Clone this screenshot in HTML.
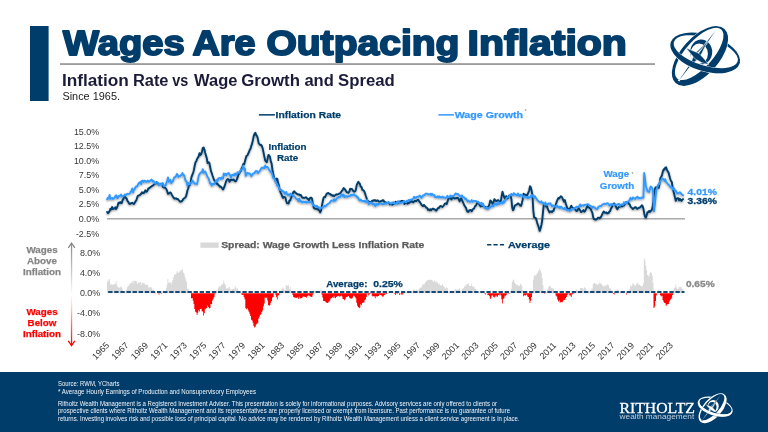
<!DOCTYPE html>
<html><head><meta charset="utf-8"><title>Wages Are Outpacing Inflation</title>
<style>html,body{margin:0;padding:0;background:#fff;overflow:hidden}svg{display:block}</style></head>
<body>
<svg width="768" height="432" viewBox="0 0 768 432">
<defs>
<linearGradient id="ag" x1="0" y1="0" x2="0" y2="1"><stop offset="0" stop-color="#8a8a8a"/><stop offset="0.38" stop-color="#e0e0e0"/><stop offset="0.5" stop-color="#ffffff"/><stop offset="0.62" stop-color="#ffd0d0"/><stop offset="1" stop-color="#ff0000"/></linearGradient>
<filter id="sh" x="-5%" y="-20%" width="110%" height="140%"><feGaussianBlur in="SourceAlpha" stdDeviation="0.9"/><feOffset dx="0.4" dy="0.9"/><feComponentTransfer><feFuncA type="linear" slope="0.42"/></feComponentTransfer><feMerge><feMergeNode/><feMergeNode in="SourceGraphic"/></feMerge></filter>
</defs>
<rect width="768" height="432" fill="#ffffff"/>
<rect x="30" y="26" width="18.6" height="75" fill="#003d6b"/>
<text x="63.1" y="54.6" font-family="'Liberation Sans',sans-serif" font-weight="700" font-size="35" fill="#003d6b" stroke="#003d6b" stroke-width="1.9" stroke-linejoin="round" textLength="121.5" lengthAdjust="spacingAndGlyphs">Wages</text>
<text x="192.4" y="54.6" font-family="'Liberation Sans',sans-serif" font-weight="700" font-size="35" fill="#003d6b" stroke="#003d6b" stroke-width="1.9" stroke-linejoin="round" textLength="63.3" lengthAdjust="spacingAndGlyphs">Are</text>
<text x="266.4" y="54.6" font-family="'Liberation Sans',sans-serif" font-weight="700" font-size="35" fill="#003d6b" stroke="#003d6b" stroke-width="1.9" stroke-linejoin="round" textLength="193.1" lengthAdjust="spacingAndGlyphs">Outpacing</text>
<text x="467.6" y="54.6" font-family="'Liberation Sans',sans-serif" font-weight="700" font-size="35" fill="#003d6b" stroke="#003d6b" stroke-width="1.9" stroke-linejoin="round" textLength="159.3" lengthAdjust="spacingAndGlyphs">Inflation</text>
<rect x="60" y="63.4" width="595" height="1.3" fill="#767676"/>
<text x="61.9" y="85.6" font-family="'Liberation Sans',sans-serif" font-weight="700" font-size="16" fill="#1b1b3a" textLength="67.0" lengthAdjust="spacingAndGlyphs">Inflation</text>
<text x="132.9" y="85.6" font-family="'Liberation Sans',sans-serif" font-weight="700" font-size="16" fill="#1b1b3a" textLength="35.6" lengthAdjust="spacingAndGlyphs">Rate</text>
<text x="172.3" y="85.6" font-family="'Liberation Sans',sans-serif" font-weight="700" font-size="16" fill="#1b1b3a" textLength="16.0" lengthAdjust="spacingAndGlyphs">vs</text>
<text x="194.0" y="85.6" font-family="'Liberation Sans',sans-serif" font-weight="700" font-size="16" fill="#1b1b3a" textLength="43.4" lengthAdjust="spacingAndGlyphs">Wage</text>
<text x="241.2" y="85.6" font-family="'Liberation Sans',sans-serif" font-weight="700" font-size="16" fill="#1b1b3a" textLength="58.8" lengthAdjust="spacingAndGlyphs">Growth</text>
<text x="304.4" y="85.6" font-family="'Liberation Sans',sans-serif" font-weight="700" font-size="16" fill="#1b1b3a" textLength="29.4" lengthAdjust="spacingAndGlyphs">and</text>
<text x="338.0" y="85.6" font-family="'Liberation Sans',sans-serif" font-weight="700" font-size="16" fill="#1b1b3a" textLength="56.8" lengthAdjust="spacingAndGlyphs">Spread</text>
<text x="62.4" y="99.8" font-family="'Liberation Sans',sans-serif" font-size="10.8" fill="#222" textLength="57.6" lengthAdjust="spacingAndGlyphs">Since 1965.</text>
<rect x="258.9" y="114.1" width="16" height="1.5" fill="#003d6b"/>
<text x="275.6" y="118.2" font-family="'Liberation Sans',sans-serif" font-weight="700" font-size="9.9" fill="#003d6b" stroke="#003d6b" stroke-width="0.25" textLength="65.5" lengthAdjust="spacingAndGlyphs">Inflation Rate</text>
<rect x="438.4" y="114.1" width="15.6" height="1.5" fill="#3399ff"/>
<text x="454.7" y="118.2" font-family="'Liberation Sans',sans-serif" font-weight="700" font-size="9.9" fill="#3399ff" stroke="#3399ff" stroke-width="0.25" textLength="68.4" lengthAdjust="spacingAndGlyphs">Wage Growth</text>
<text x="524.4" y="113.2" font-family="'Liberation Sans',sans-serif" font-size="5.5" fill="#8a8a8a">*</text>
<text x="73.9" y="135.0" font-family="'Liberation Sans',sans-serif" font-size="9.4" fill="#383838" textLength="25.3" lengthAdjust="spacingAndGlyphs">15.0%</text>
<text x="73.9" y="149.4" font-family="'Liberation Sans',sans-serif" font-size="9.4" fill="#383838" textLength="25.3" lengthAdjust="spacingAndGlyphs">12.5%</text>
<text x="73.9" y="163.9" font-family="'Liberation Sans',sans-serif" font-size="9.4" fill="#383838" textLength="25.3" lengthAdjust="spacingAndGlyphs">10.0%</text>
<text x="78.8" y="178.3" font-family="'Liberation Sans',sans-serif" font-size="9.4" fill="#383838" textLength="20.4" lengthAdjust="spacingAndGlyphs">7.5%</text>
<text x="78.8" y="192.8" font-family="'Liberation Sans',sans-serif" font-size="9.4" fill="#383838" textLength="20.4" lengthAdjust="spacingAndGlyphs">5.0%</text>
<text x="78.8" y="207.2" font-family="'Liberation Sans',sans-serif" font-size="9.4" fill="#383838" textLength="20.4" lengthAdjust="spacingAndGlyphs">2.5%</text>
<text x="78.8" y="221.7" font-family="'Liberation Sans',sans-serif" font-size="9.4" fill="#383838" textLength="20.4" lengthAdjust="spacingAndGlyphs">0.0%</text>
<text x="75.9" y="236.8" font-family="'Liberation Sans',sans-serif" font-size="9.4" fill="#383838" textLength="23.3" lengthAdjust="spacingAndGlyphs">-2.5%</text>
<rect x="107" y="218.1" width="578" height="1.4" fill="#a3a3a3"/>
<g filter="url(#sh)" fill="none" stroke-linejoin="round" stroke-linecap="round">
<polyline points="107.2,211.9 108.0,213.2 108.8,212.3 109.6,211.1 110.4,208.8 111.3,209.4 112.1,207.0 112.9,209.1 113.7,208.4 114.5,208.5 115.3,207.3 116.1,209.0 116.9,207.8 117.7,205.6 118.5,202.7 119.4,203.1 120.2,202.1 121.0,203.0 121.8,203.0 122.6,200.1 123.4,198.9 124.2,196.9 125.0,197.0 125.8,197.9 126.6,198.4 127.4,200.8 128.3,201.9 129.1,203.5 129.9,204.1 130.7,203.3 131.5,203.2 132.3,202.8 133.1,203.5 133.9,204.1 134.7,202.8 135.6,201.2 136.4,200.2 137.2,197.5 138.0,195.7 138.8,195.5 139.6,195.2 140.4,194.6 141.2,193.6 142.0,192.2 142.8,193.1 143.7,193.1 144.5,191.9 145.3,190.3 146.1,191.7 146.9,191.6 147.7,190.0 148.5,188.2 149.3,188.2 150.1,187.4 150.9,186.9 151.7,186.1 152.6,185.6 153.4,185.1 154.2,184.5 155.0,183.2 155.8,183.6 156.6,182.1 157.4,182.9 158.2,183.8 159.0,183.7 159.9,184.3 160.7,183.8 161.5,184.3 162.3,184.7 163.1,187.2 163.9,187.5 164.7,187.3 165.5,188.2 166.3,189.0 167.1,190.9 168.0,193.9 168.8,193.7 169.6,192.6 170.4,192.5 171.2,193.4 172.0,195.1 172.8,196.5 173.6,197.7 174.4,198.7 175.2,198.5 176.0,198.3 176.9,199.1 177.7,199.0 178.5,199.9 179.3,200.6 180.1,201.7 180.9,201.6 181.7,201.2 182.5,200.5 183.3,198.9 184.2,198.2 185.0,197.7 185.8,196.8 186.6,194.4 187.4,190.5 188.2,188.5 189.0,185.4 189.8,185.2 190.6,182.4 191.4,177.4 192.2,175.1 193.1,172.8 193.9,170.2 194.7,165.7 195.5,162.3 196.3,161.2 197.1,158.9 197.9,157.6 198.7,156.4 199.5,153.1 200.3,155.0 201.2,154.3 202.0,151.5 202.8,148.0 203.6,147.4 204.4,149.5 205.2,153.0 206.0,155.6 206.8,158.3 207.6,163.1 208.5,162.3 209.3,162.7 210.1,166.7 210.9,170.9 211.7,173.0 212.5,175.5 213.3,177.7 214.1,180.0 214.9,180.8 215.7,182.2 216.6,183.8 217.4,183.4 218.2,184.9 219.0,185.4 219.8,186.7 220.6,186.5 221.4,187.3 222.2,188.4 223.0,189.5 223.8,188.0 224.6,186.2 225.5,183.3 226.3,180.9 227.1,179.5 227.9,178.9 228.7,179.5 229.5,181.7 230.3,180.4 231.1,179.4 231.9,180.0 232.8,179.8 233.6,179.4 234.4,180.6 235.2,181.4 236.0,181.1 236.8,179.3 237.6,177.4 238.4,174.5 239.2,173.6 240.0,172.0 240.9,170.7 241.7,168.1 242.5,166.7 243.3,164.0 244.1,164.5 244.9,161.6 245.7,158.5 246.5,155.9 247.3,155.7 248.1,153.8 248.9,152.3 249.8,149.7 250.6,148.5 251.4,145.6 252.2,143.4 253.0,139.6 253.8,135.8 254.6,133.7 255.4,132.8 256.2,135.1 257.1,136.1 257.9,139.1 258.7,143.2 259.5,144.3 260.3,145.0 261.1,144.8 261.9,146.1 262.7,148.5 263.5,152.4 264.3,156.4 265.2,160.6 266.0,161.4 266.8,162.3 267.6,158.6 268.4,155.0 269.2,155.4 270.0,156.9 270.8,161.4 271.6,163.6 272.4,169.5 273.2,173.8 274.1,177.6 274.9,179.4 275.7,180.8 276.5,178.6 277.3,178.9 278.1,182.9 278.9,185.2 279.7,190.0 280.5,192.3 281.4,194.2 282.2,196.3 283.0,197.9 283.8,196.8 284.6,197.3 285.4,197.4 286.2,201.0 287.0,203.2 287.8,203.4 288.6,203.5 289.4,200.4 290.3,200.5 291.1,197.8 291.9,195.8 292.7,193.6 293.5,191.8 294.3,191.3 295.1,192.4 295.9,193.0 296.7,193.8 297.5,194.3 298.4,194.5 299.2,194.5 300.0,195.3 300.8,194.9 301.6,196.5 302.4,197.7 303.2,197.6 304.0,198.0 304.8,197.7 305.7,197.3 306.5,197.5 307.3,198.9 308.1,198.9 308.9,200.1 309.7,198.7 310.5,197.7 311.3,197.6 312.1,198.9 312.9,204.1 313.8,207.9 314.6,208.4 315.4,208.8 316.2,208.6 317.0,209.0 317.8,208.7 318.6,210.2 319.4,210.5 320.2,212.4 321.0,210.9 321.8,206.3 322.7,201.8 323.5,198.0 324.3,196.9 325.1,197.1 325.9,195.4 326.7,193.7 327.5,193.3 328.3,192.9 329.1,193.7 330.0,194.0 330.8,194.9 331.6,194.8 332.4,195.8 333.2,195.3 334.0,196.2 334.8,195.6 335.6,194.9 336.4,194.3 337.2,194.5 338.1,194.2 338.9,193.8 339.7,193.3 340.5,193.1 341.3,191.6 342.1,190.7 342.9,189.4 343.7,188.0 344.5,189.0 345.3,189.7 346.1,191.3 347.0,192.4 347.8,192.5 348.6,192.8 349.4,191.4 350.2,188.8 351.0,189.2 351.8,188.9 352.6,189.9 353.4,191.4 354.3,191.7 355.1,191.4 355.9,189.6 356.7,185.2 357.5,183.5 358.3,181.8 359.1,182.9 359.9,183.9 360.7,186.7 361.5,187.0 362.4,189.9 363.2,190.2 364.0,190.8 364.8,192.7 365.6,195.3 366.4,197.5 367.2,200.2 368.0,201.1 368.8,201.6 369.6,201.6 370.4,202.4 371.3,202.5 372.1,200.7 372.9,200.8 373.7,200.2 374.5,200.5 375.3,200.2 376.1,201.1 376.9,200.7 377.7,200.3 378.6,201.4 379.4,201.9 380.2,201.3 381.0,201.2 381.8,201.0 382.6,200.3 383.4,200.2 384.2,201.7 385.0,202.1 385.8,202.6 386.7,202.7 387.5,202.9 388.3,203.1 389.1,203.3 389.9,204.4 390.7,203.8 391.5,204.0 392.3,204.7 393.1,204.2 393.9,203.9 394.7,202.8 395.6,201.8 396.4,202.4 397.2,202.9 398.0,203.2 398.8,202.7 399.6,201.5 400.4,202.4 401.2,201.0 402.0,200.9 402.9,201.0 403.7,201.8 404.5,204.0 405.3,202.9 406.1,203.1 406.9,203.4 407.7,203.7 408.5,202.7 409.3,202.9 410.1,201.6 410.9,201.9 411.8,201.1 412.6,202.1 413.4,202.4 414.2,201.2 415.0,201.0 415.8,200.9 416.6,201.0 417.4,200.0 418.2,199.8 419.0,201.1 419.9,202.1 420.7,203.3 421.5,204.8 422.3,205.6 423.1,206.1 423.9,204.9 424.7,206.0 425.5,206.3 426.3,207.9 427.2,208.0 428.0,209.9 428.8,209.3 429.6,210.3 430.4,209.3 431.2,210.3 432.0,209.2 432.8,208.6 433.6,208.6 434.4,209.6 435.2,209.7 436.1,210.7 436.9,209.6 437.7,208.6 438.5,207.7 439.3,207.7 440.1,206.1 440.9,206.0 441.7,206.6 442.5,207.0 443.3,206.0 444.2,204.8 445.0,203.4 445.8,203.4 446.6,204.1 447.4,201.9 448.2,199.2 449.0,198.1 449.8,198.3 450.6,198.2 451.5,199.6 452.3,197.4 453.1,197.4 453.9,198.0 454.7,198.6 455.5,198.1 456.3,198.4 457.1,197.7 457.9,197.9 458.7,199.1 459.6,201.3 460.4,199.5 461.2,198.3 462.0,200.3 462.8,201.8 463.6,203.6 464.4,205.5 465.2,206.7 466.0,207.9 466.8,210.5 467.6,211.8 468.5,211.8 469.3,210.1 470.1,210.3 470.9,210.0 471.7,211.3 472.5,209.6 473.3,208.9 474.1,208.5 474.9,206.3 475.8,205.7 476.6,204.2 477.4,202.1 478.2,201.9 479.0,203.8 479.8,205.3 480.6,206.5 481.4,205.9 482.2,205.9 483.0,206.0 483.9,206.4 484.7,206.8 485.5,206.9 486.3,207.5 487.1,208.4 487.9,206.9 488.7,206.1 489.5,204.2 490.3,200.5 491.1,201.2 491.9,202.6 492.8,204.0 493.6,201.9 494.4,199.1 495.2,200.3 496.0,201.0 496.8,201.0 497.6,200.1 498.4,200.2 499.2,201.5 500.1,201.6 500.9,200.7 501.7,196.0 502.5,191.7 503.3,194.4 504.1,197.0 504.9,198.6 505.7,196.6 506.5,196.2 507.3,198.5 508.2,197.8 509.0,195.7 509.8,195.4 510.6,195.9 511.4,199.1 512.2,207.5 513.0,210.3 513.8,208.9 514.6,205.9 515.4,205.4 516.2,204.7 517.1,204.4 517.9,203.4 518.7,203.8 519.5,204.6 520.3,205.5 521.1,205.8 521.9,202.9 522.7,199.5 523.5,193.8 524.4,194.4 525.2,194.7 526.0,194.8 526.8,195.7 527.6,194.5 528.4,192.4 529.2,190.5 530.0,186.2 530.8,187.4 531.6,190.4 532.5,196.2 533.3,210.4 534.1,217.4 534.9,217.7 535.7,218.0 536.5,220.1 537.3,223.4 538.1,225.5 538.9,227.9 539.7,230.9 540.5,228.5 541.4,224.9 542.2,220.5 543.0,212.1 543.8,204.4 544.6,204.0 545.4,205.4 546.2,206.6 547.0,206.2 547.8,208.9 548.7,210.8 549.5,212.4 550.3,211.5 551.1,211.3 551.9,212.2 552.7,211.0 553.5,210.9 554.3,208.2 555.1,207.1 555.9,204.3 556.8,201.4 557.6,199.5 558.4,197.9 559.2,198.5 560.0,197.3 560.8,196.2 561.6,196.8 562.4,198.0 563.2,200.0 564.0,201.7 564.8,200.0 565.7,203.3 566.5,205.7 567.3,208.1 568.1,208.7 568.9,210.1 569.7,208.5 570.5,207.5 571.3,205.7 572.1,207.4 573.0,208.2 573.8,208.4 574.6,208.3 575.4,209.6 576.2,210.8 577.0,211.1 577.8,209.8 578.6,208.1 579.4,209.3 580.2,210.3 581.1,212.1 581.9,211.5 582.7,211.2 583.5,210.1 584.3,211.7 585.1,211.0 585.9,209.4 586.7,207.5 587.5,205.9 588.3,207.3 589.1,207.4 590.0,208.5 590.8,209.1 591.6,211.2 592.4,212.9 593.2,217.3 594.0,219.0 594.8,219.6 595.6,219.4 596.4,219.6 597.3,218.6 598.1,217.6 598.9,217.6 599.7,218.4 600.5,217.4 601.3,216.4 602.1,214.7 602.9,212.9 603.7,211.4 604.5,212.6 605.4,212.8 606.2,212.4 607.0,213.5 607.8,212.9 608.6,213.1 609.4,211.3 610.2,211.0 611.0,208.3 611.8,207.4 612.6,205.4 613.4,203.9 614.3,203.4 615.1,205.5 615.9,206.5 616.7,208.5 617.5,209.2 618.3,207.5 619.1,206.9 619.9,206.6 620.7,206.5 621.6,206.2 622.4,206.4 623.2,205.7 624.0,205.5 624.8,204.3 625.6,202.8 626.4,202.1 627.2,202.6 628.0,201.9 628.8,203.9 629.7,204.3 630.5,206.6 631.3,207.4 632.1,208.2 632.9,209.0 633.7,208.3 634.5,207.7 635.3,207.1 636.1,207.6 636.9,208.7 637.7,208.7 638.6,207.8 639.4,207.8 640.2,207.2 641.0,206.6 641.8,205.2 642.6,206.1 643.4,208.7 644.2,213.2 645.0,216.6 645.9,217.6 646.7,215.3 647.5,212.1 648.3,212.2 649.1,210.9 649.9,211.9 650.7,211.0 651.5,210.3 652.3,208.4 653.1,204.0 654.0,194.2 654.8,189.6 655.6,187.4 656.4,187.3 657.2,187.7 658.0,187.5 658.8,187.8 659.6,183.3 660.4,178.2 661.2,176.7 662.0,175.3 662.9,171.3 663.7,169.3 664.5,169.6 665.3,167.7 666.1,167.3 666.9,169.6 667.7,171.3 668.5,172.3 669.3,175.4 670.2,178.7 671.0,181.0 671.8,182.0 672.6,187.1 673.4,191.0 674.2,194.1 675.0,197.6 675.8,200.8 676.6,198.8 677.4,198.1 678.3,198.2 679.1,200.4 679.9,198.8 680.7,200.0 681.5,200.9 682.3,199.6 683.1,199.2" stroke="#003d6b" stroke-width="1.9"/>
<polyline points="107.2,199.3 108.0,197.8 108.8,198.5 109.6,194.9 110.4,198.7 111.3,198.5 112.1,197.9 112.9,199.0 113.7,198.4 114.5,197.8 115.3,196.3 116.1,195.2 116.9,197.8 117.7,198.2 118.5,196.0 119.4,196.4 120.2,195.6 121.0,194.6 121.8,196.6 122.6,196.0 123.4,196.5 124.2,195.3 125.0,194.5 125.8,195.2 126.6,194.3 127.4,193.8 128.3,193.9 129.1,193.9 129.9,193.5 130.7,191.6 131.5,191.1 132.3,188.5 133.1,192.5 133.9,189.8 134.7,188.9 135.6,186.8 136.4,186.3 137.2,186.5 138.0,184.6 138.8,182.9 139.6,183.0 140.4,181.8 141.2,184.1 142.0,180.6 142.8,180.6 143.7,181.9 144.5,180.7 145.3,181.0 146.1,182.0 146.9,181.3 147.7,180.6 148.5,181.8 149.3,181.4 150.1,180.8 150.9,180.1 151.7,179.6 152.6,181.7 153.4,180.9 154.2,181.5 155.0,183.6 155.8,182.4 156.6,182.3 157.4,182.6 158.2,182.8 159.0,185.4 159.9,183.8 160.7,184.4 161.5,184.9 162.3,182.9 163.1,183.5 163.9,186.3 164.7,185.8 165.5,185.6 166.3,183.2 167.1,181.0 168.0,177.5 168.8,181.9 169.6,180.1 170.4,179.8 171.2,183.1 172.0,182.1 172.8,181.4 173.6,179.1 174.4,177.2 175.2,177.1 176.0,176.3 176.9,174.0 177.7,174.8 178.5,176.9 179.3,176.2 180.1,176.1 180.9,175.2 181.7,174.8 182.5,173.0 183.3,175.2 184.2,175.3 185.0,178.9 185.8,181.2 186.6,181.3 187.4,185.9 188.2,183.0 189.0,183.4 189.8,184.5 190.6,182.8 191.4,183.2 192.2,180.4 193.1,181.2 193.9,182.6 194.7,183.7 195.5,183.7 196.3,183.6 197.1,183.9 197.9,180.2 198.7,175.9 199.5,174.0 200.3,173.1 201.2,172.2 202.0,172.2 202.8,169.1 203.6,172.9 204.4,172.6 205.2,171.4 206.0,173.3 206.8,175.2 207.6,177.1 208.5,178.3 209.3,180.4 210.1,183.6 210.9,183.2 211.7,185.6 212.5,183.9 213.3,184.0 214.1,184.3 214.9,182.1 215.7,182.0 216.6,180.0 217.4,181.5 218.2,178.6 219.0,178.1 219.8,177.9 220.6,179.0 221.4,177.6 222.2,178.5 223.0,178.6 223.8,173.4 224.6,175.0 225.5,173.8 226.3,175.4 227.1,173.9 227.9,173.4 228.7,173.0 229.5,174.4 230.3,175.6 231.1,177.5 231.9,175.0 232.8,175.1 233.6,174.3 234.4,175.5 235.2,173.4 236.0,174.7 236.8,174.8 237.6,172.1 238.4,172.8 239.2,172.9 240.0,171.0 240.9,169.8 241.7,169.6 242.5,168.7 243.3,165.6 244.1,169.0 244.9,168.6 245.7,175.9 246.5,174.2 247.3,173.0 248.1,173.1 248.9,173.6 249.8,173.4 250.6,174.9 251.4,176.1 252.2,174.7 253.0,173.5 253.8,173.4 254.6,173.1 255.4,171.3 256.2,171.0 257.1,171.2 257.9,173.1 258.7,172.1 259.5,171.4 260.3,170.2 261.1,168.6 261.9,167.6 262.7,168.1 263.5,167.4 264.3,168.1 265.2,165.5 266.0,167.3 266.8,167.1 267.6,166.9 268.4,168.4 269.2,169.7 270.0,170.8 270.8,172.3 271.6,172.5 272.4,174.9 273.2,178.1 274.1,178.0 274.9,179.4 275.7,182.6 276.5,183.1 277.3,186.1 278.1,185.5 278.9,187.5 279.7,189.9 280.5,190.1 281.4,189.8 282.2,191.3 283.0,191.2 283.8,191.8 284.6,193.7 285.4,193.6 286.2,191.9 287.0,194.2 287.8,195.1 288.6,194.3 289.4,195.6 290.3,193.5 291.1,194.7 291.9,194.7 292.7,195.3 293.5,196.2 294.3,196.2 295.1,197.3 295.9,198.3 296.7,199.1 297.5,199.2 298.4,201.1 299.2,198.6 300.0,201.5 300.8,200.7 301.6,201.8 302.4,202.6 303.2,201.5 304.0,201.9 304.8,202.0 305.7,201.7 306.5,202.7 307.3,202.1 308.1,201.9 308.9,202.4 309.7,202.2 310.5,201.5 311.3,202.0 312.1,202.9 312.9,205.6 313.8,204.9 314.6,205.3 315.4,206.2 316.2,206.5 317.0,205.8 317.8,207.3 318.6,207.1 319.4,208.3 320.2,208.5 321.0,207.9 321.8,207.9 322.7,206.9 323.5,207.0 324.3,205.9 325.1,206.3 325.9,205.9 326.7,204.7 327.5,204.5 328.3,203.7 329.1,203.2 330.0,202.5 330.8,201.0 331.6,200.4 332.4,200.5 333.2,200.9 334.0,199.2 334.8,200.8 335.6,200.6 336.4,198.5 337.2,198.1 338.1,197.5 338.9,196.7 339.7,197.3 340.5,196.5 341.3,194.3 342.1,194.4 342.9,196.1 343.7,194.6 344.5,197.1 345.3,196.7 346.1,196.0 347.0,196.9 347.8,196.4 348.6,196.2 349.4,196.3 350.2,195.3 351.0,194.7 351.8,195.5 352.6,195.1 353.4,194.3 354.3,194.5 355.1,195.7 355.9,195.6 356.7,196.1 357.5,197.8 358.3,197.5 359.1,199.9 359.9,200.6 360.7,199.5 361.5,200.7 362.4,201.2 363.2,200.9 364.0,201.4 364.8,200.8 365.6,202.2 366.4,201.9 367.2,199.9 368.0,202.5 368.8,204.4 369.6,202.8 370.4,203.0 371.3,202.5 372.1,203.7 372.9,204.5 373.7,203.4 374.5,204.2 375.3,206.0 376.1,204.2 376.9,204.9 377.7,203.8 378.6,204.5 379.4,203.4 380.2,203.5 381.0,203.3 381.8,203.9 382.6,204.3 383.4,204.1 384.2,203.7 385.0,203.9 385.8,203.0 386.7,203.7 387.5,203.2 388.3,201.9 389.1,202.9 389.9,202.8 390.7,203.7 391.5,203.4 392.3,202.4 393.1,203.1 393.9,202.2 394.7,203.8 395.6,204.0 396.4,202.8 397.2,203.9 398.0,201.1 398.8,201.9 399.6,203.5 400.4,202.6 401.2,202.8 402.0,202.1 402.9,202.5 403.7,201.8 404.5,201.1 405.3,201.9 406.1,202.3 406.9,200.8 407.7,201.1 408.5,200.1 409.3,200.8 410.1,199.7 410.9,199.6 411.8,199.5 412.6,199.2 413.4,198.3 414.2,196.8 415.0,197.9 415.8,198.1 416.6,196.9 417.4,196.6 418.2,196.9 419.0,196.2 419.9,195.6 420.7,197.2 421.5,197.9 422.3,196.4 423.1,195.2 423.9,195.5 424.7,195.0 425.5,193.6 426.3,193.6 427.2,193.8 428.0,194.5 428.8,194.2 429.6,194.4 430.4,193.8 431.2,195.2 432.0,193.7 432.8,194.8 433.6,195.5 434.4,195.0 435.2,197.3 436.1,196.8 436.9,197.0 437.7,196.3 438.5,197.5 439.3,196.2 440.1,197.5 440.9,196.9 441.7,197.7 442.5,196.6 443.3,197.7 444.2,197.4 445.0,197.9 445.8,198.0 446.6,197.1 447.4,195.9 448.2,197.2 449.0,197.4 449.8,196.4 450.6,195.5 451.5,196.8 452.3,196.4 453.1,195.9 453.9,195.8 454.7,194.7 455.5,193.4 456.3,193.8 457.1,194.2 457.9,193.9 458.7,194.8 459.6,195.9 460.4,196.4 461.2,196.9 462.0,195.3 462.8,197.1 463.6,197.2 464.4,197.6 465.2,199.2 466.0,198.6 466.8,199.9 467.6,201.5 468.5,200.6 469.3,201.7 470.1,201.7 470.9,201.6 471.7,200.1 472.5,201.8 473.3,201.4 474.1,200.9 474.9,200.9 475.8,201.0 476.6,201.4 477.4,201.8 478.2,201.8 479.0,202.9 479.8,203.1 480.6,204.0 481.4,202.8 482.2,205.1 483.0,203.6 483.9,206.3 484.7,207.6 485.5,208.5 486.3,207.5 487.1,207.6 487.9,209.2 488.7,208.2 489.5,207.9 490.3,207.3 491.1,206.4 491.9,205.3 492.8,206.5 493.6,206.1 494.4,203.9 495.2,204.0 496.0,203.3 496.8,204.8 497.6,204.1 498.4,202.2 499.2,204.0 500.1,202.7 500.9,203.4 501.7,202.9 502.5,203.4 503.3,201.1 504.1,202.5 504.9,201.2 505.7,200.2 506.5,197.9 507.3,197.7 508.2,196.6 509.0,196.5 509.8,195.8 510.6,195.1 511.4,193.9 512.2,194.5 513.0,195.3 513.8,193.2 514.6,193.7 515.4,194.9 516.2,194.6 517.1,195.5 517.9,193.5 518.7,195.1 519.5,196.3 520.3,194.7 521.1,195.8 521.9,194.7 522.7,195.8 523.5,197.4 524.4,196.6 525.2,197.2 526.0,197.1 526.8,197.2 527.6,198.3 528.4,196.9 529.2,197.8 530.0,197.4 530.8,196.0 531.6,194.9 532.5,196.6 533.3,195.1 534.1,197.9 534.9,196.2 535.7,198.0 536.5,198.6 537.3,200.2 538.1,200.8 538.9,201.4 539.7,202.3 540.5,202.5 541.4,201.3 542.2,203.1 543.0,202.7 543.8,203.7 544.6,204.7 545.4,202.5 546.2,204.9 547.0,204.7 547.8,204.1 548.7,203.5 549.5,203.9 550.3,203.2 551.1,204.9 551.9,206.4 552.7,205.3 553.5,205.7 554.3,206.6 555.1,206.6 555.9,206.9 556.8,205.3 557.6,206.9 558.4,207.5 559.2,206.5 560.0,208.1 560.8,206.7 561.6,207.0 562.4,208.4 563.2,208.7 564.0,209.2 564.8,207.8 565.7,208.8 566.5,210.1 567.3,210.3 568.1,209.9 568.9,210.1 569.7,211.0 570.5,210.0 571.3,210.1 572.1,208.9 573.0,209.0 573.8,208.8 574.6,208.2 575.4,208.4 576.2,206.8 577.0,206.8 577.8,207.1 578.6,206.4 579.4,206.7 580.2,204.4 581.1,206.3 581.9,205.4 582.7,205.2 583.5,205.7 584.3,204.8 585.1,205.0 585.9,204.6 586.7,204.6 587.5,204.2 588.3,204.4 589.1,205.4 590.0,205.6 590.8,206.0 591.6,206.7 592.4,207.8 593.2,206.6 594.0,207.3 594.8,207.5 595.6,208.7 596.4,208.6 597.3,209.1 598.1,207.3 598.9,206.6 599.7,206.1 600.5,205.9 601.3,206.0 602.1,204.7 602.9,204.5 603.7,203.9 604.5,203.7 605.4,204.2 606.2,203.9 607.0,203.2 607.8,203.3 608.6,204.0 609.4,205.7 610.2,205.0 611.0,204.1 611.8,204.6 612.6,204.1 613.4,205.0 614.3,204.8 615.1,204.5 615.9,204.7 616.7,205.0 617.5,204.4 618.3,204.0 619.1,203.8 619.9,205.8 620.7,204.8 621.6,204.5 622.4,204.4 623.2,204.8 624.0,202.3 624.8,203.4 625.6,202.2 626.4,203.6 627.2,202.0 628.0,201.5 628.8,201.4 629.7,199.6 630.5,197.8 631.3,199.5 632.1,199.4 632.9,197.4 633.7,198.0 634.5,198.5 635.3,199.0 636.1,197.4 636.9,197.6 637.7,196.7 638.6,198.4 639.4,197.9 640.2,198.1 641.0,198.2 641.8,197.5 642.6,197.7 643.4,197.7 644.2,173.0 645.0,178.9 645.9,185.9 646.7,188.7 647.5,191.3 648.3,191.6 649.1,192.0 649.9,188.8 650.7,186.6 651.5,187.1 652.3,188.3 653.1,192.4 654.0,211.3 654.8,204.8 655.6,196.5 656.4,190.1 657.2,187.6 658.0,184.9 658.8,184.3 659.6,183.3 660.4,180.5 661.2,180.5 662.0,178.2 662.9,179.1 663.7,179.1 664.5,180.9 665.3,179.2 666.1,181.9 666.9,182.6 667.7,183.9 668.5,184.8 669.3,185.2 670.2,186.9 671.0,187.6 671.8,187.2 672.6,189.3 673.4,188.2 674.2,188.5 675.0,191.2 675.8,190.7 676.6,192.4 677.4,193.6 678.3,193.4 679.1,192.7 679.9,192.3 680.7,192.9 681.5,194.2 682.3,194.7 683.1,195.4" stroke="#3399ff" stroke-width="1.9"/>
</g>
<text x="287.5" y="150.0" font-family="'Liberation Sans',sans-serif" font-weight="700" font-size="9.8" fill="#003d6b" stroke="#003d6b" stroke-width="0.2" text-anchor="middle">Inflation</text>
<text x="287.5" y="161.1" font-family="'Liberation Sans',sans-serif" font-weight="700" font-size="9.8" fill="#003d6b" stroke="#003d6b" stroke-width="0.2" text-anchor="middle">Rate</text>
<text x="616.3" y="177.3" font-family="'Liberation Sans',sans-serif" font-weight="700" font-size="9.8" fill="#3399ff" stroke="#3399ff" stroke-width="0.2" text-anchor="middle">Wage</text>
<text x="617" y="188.6" font-family="'Liberation Sans',sans-serif" font-weight="700" font-size="9.8" fill="#3399ff" stroke="#3399ff" stroke-width="0.2" text-anchor="middle">Growth</text>
<text x="631.5" y="176" font-family="'Liberation Sans',sans-serif" font-size="5" fill="#777">*</text>
<text x="687.6" y="194.9" font-family="'Liberation Sans',sans-serif" font-weight="700" font-size="9.3" fill="#3399ff" stroke="#3399ff" stroke-width="0.3" textLength="29.3" lengthAdjust="spacingAndGlyphs">4.01%</text>
<text x="687.6" y="203.6" font-family="'Liberation Sans',sans-serif" font-weight="700" font-size="9.3" fill="#003d6b" stroke="#003d6b" stroke-width="0.3" textLength="29.3" lengthAdjust="spacingAndGlyphs">3.36%</text>
<text x="79.9" y="256.1" font-family="'Liberation Sans',sans-serif" font-size="9.4" fill="#383838" textLength="20.4" lengthAdjust="spacingAndGlyphs">8.0%</text>
<text x="79.9" y="276.2" font-family="'Liberation Sans',sans-serif" font-size="9.4" fill="#383838" textLength="20.4" lengthAdjust="spacingAndGlyphs">4.0%</text>
<text x="79.9" y="296.3" font-family="'Liberation Sans',sans-serif" font-size="9.4" fill="#383838" textLength="20.4" lengthAdjust="spacingAndGlyphs">0.0%</text>
<text x="77.0" y="316.4" font-family="'Liberation Sans',sans-serif" font-size="9.4" fill="#383838" textLength="23.3" lengthAdjust="spacingAndGlyphs">-4.0%</text>
<text x="77.0" y="336.5" font-family="'Liberation Sans',sans-serif" font-size="9.4" fill="#383838" textLength="23.3" lengthAdjust="spacingAndGlyphs">-8.0%</text>
<path d="M107.2,293.2L106.8,282.3L107.6,282.3L107.6,279.8L108.4,279.8L108.4,281.2L109.2,281.2L109.2,279.1L110.0,279.1L110.0,284.4L110.8,284.4L110.8,283.7L111.7,283.7L111.7,285.3L112.5,285.3L112.5,284.5L113.3,284.5L113.3,284.5L114.1,284.5L114.1,283.9L114.9,283.9L114.9,283.7L115.7,283.7L115.7,281.1L116.5,281.1L116.5,284.5L117.3,284.5L117.3,286.8L118.1,286.8L118.1,287.4L118.9,287.4L118.9,287.4L119.8,287.4L119.8,287.5L120.6,287.5L120.6,285.9L121.4,285.9L121.4,287.6L122.2,287.6L122.2,289.7L123.0,289.7L123.0,291.1L123.8,291.1L123.8,291.8L124.6,291.8L124.6,291.0L125.4,291.0L125.4,290.8L126.2,290.8L126.2,289.6L127.0,289.6L127.0,287.1L127.9,287.1L127.9,286.2L128.7,286.2L128.7,284.8L129.5,284.8L129.5,283.9L130.3,283.9L130.3,283.1L131.1,283.1L131.1,282.6L131.9,282.6L131.9,280.7L132.7,280.7L132.7,283.6L133.5,283.6L133.5,280.8L134.3,280.8L134.3,281.1L135.1,281.1L135.1,280.7L136.0,280.7L136.0,281.2L136.8,281.2L136.8,283.6L137.6,283.6L137.6,283.5L138.4,283.5L138.4,282.3L139.2,282.3L139.2,282.6L140.0,282.6L140.0,282.0L140.8,282.0L140.8,284.9L141.6,284.9L141.6,283.1L142.4,283.1L142.4,282.3L143.2,282.3L143.2,283.5L144.1,283.5L144.1,283.5L144.9,283.5L144.9,285.1L145.7,285.1L145.7,284.8L146.5,284.8L146.5,284.2L147.3,284.2L147.3,285.0L148.1,285.0L148.1,287.6L148.9,287.6L148.9,287.3L149.7,287.3L149.7,287.5L150.5,287.5L150.5,287.2L151.3,287.2L151.3,287.5L152.2,287.5L152.2,289.8L153.0,289.8L153.0,289.6L153.8,289.6L153.8,290.5L154.6,290.5L154.6,293.2L155.4,293.2L155.4,292.2L156.2,292.2L156.2,293.2L157.0,293.2L157.0,293.0L157.8,293.0L157.8,292.3L158.6,292.3L158.6,293.2L159.4,293.2L159.4,292.8L160.3,292.8L160.3,293.2L161.1,293.2L161.1,293.2L161.9,293.2L161.9,291.7L162.7,291.7L162.7,290.0L163.5,290.0L163.5,292.2L164.3,292.2L164.3,291.8L165.1,291.8L165.1,291.0L165.9,291.0L165.9,288.2L166.7,288.2L166.7,284.6L167.5,284.6L167.5,279.0L168.4,279.0L168.4,282.9L169.2,282.9L169.2,282.3L170.0,282.3L170.0,282.2L170.8,282.2L170.8,284.2L171.6,284.2L171.6,281.8L172.4,281.8L172.4,280.1L173.2,280.1L173.2,277.0L174.0,277.0L174.0,274.5L174.8,274.5L174.8,274.5L175.6,274.5L175.6,274.0L176.5,274.0L176.5,271.3L177.3,271.3L177.3,272.2L178.1,272.2L178.1,273.1L178.9,273.1L178.9,272.0L179.7,272.0L179.7,270.9L180.5,270.9L180.5,270.2L181.3,270.2L181.3,270.2L182.1,270.2L182.1,269.3L182.9,269.3L182.9,272.6L183.7,272.6L183.7,273.3L184.6,273.3L184.6,276.8L185.4,276.8L185.4,279.6L186.2,279.6L186.2,281.7L187.0,281.7L187.0,289.2L187.8,289.2L187.8,288.3L188.6,288.3L188.6,291.4L189.4,291.4L189.4,292.6L190.2,292.6L190.2,293.2L191.0,293.2L191.0,293.2L191.8,293.2L191.8,293.2L192.7,293.2L192.7,293.2L193.5,293.2L193.5,293.2L194.3,293.2L194.3,293.2L195.1,293.2L195.1,293.2L195.9,293.2L195.9,293.2L196.7,293.2L196.7,293.2L197.5,293.2L197.5,293.2L198.3,293.2L198.3,293.2L199.1,293.2L199.1,293.2L199.9,293.2L199.9,293.2L200.8,293.2L200.8,293.2L201.6,293.2L201.6,293.2L202.4,293.2L202.4,293.2L203.2,293.2L203.2,293.2L204.0,293.2L204.0,293.2L204.8,293.2L204.8,293.2L205.6,293.2L205.6,293.2L206.4,293.2L206.4,293.2L207.2,293.2L207.2,293.2L208.0,293.2L208.0,293.2L208.9,293.2L208.9,293.2L209.7,293.2L209.7,293.2L210.5,293.2L210.5,293.2L211.3,293.2L211.3,293.2L212.1,293.2L212.1,293.2L212.9,293.2L212.9,293.2L213.7,293.2L213.7,293.2L214.5,293.2L214.5,293.2L215.3,293.2L215.3,293.0L216.1,293.0L216.1,289.9L217.0,289.9L217.0,291.6L217.8,291.6L217.8,287.7L218.6,287.7L218.6,286.8L219.4,286.8L219.4,285.5L220.2,285.5L220.2,286.7L221.0,286.7L221.0,284.7L221.8,284.7L221.8,284.5L222.6,284.5L222.6,283.7L223.4,283.7L223.4,280.4L224.2,280.4L224.2,283.5L225.1,283.5L225.1,284.9L225.9,284.9L225.9,288.4L226.7,288.4L226.7,288.3L227.5,288.3L227.5,288.4L228.3,288.4L228.3,287.6L229.1,287.6L229.1,286.9L229.9,286.9L229.9,289.0L230.7,289.0L230.7,291.6L231.5,291.6L231.5,288.8L232.3,288.8L232.3,289.0L233.2,289.0L233.2,288.8L234.0,288.8L234.0,288.8L234.8,288.8L234.8,286.2L235.6,286.2L235.6,287.7L236.4,287.7L236.4,289.3L237.2,289.3L237.2,288.6L238.0,288.6L238.0,291.7L238.8,291.7L238.8,292.5L239.6,292.5L239.6,292.3L240.4,292.3L240.4,292.4L241.3,292.4L241.3,293.2L242.1,293.2L242.1,293.2L242.9,293.2L242.9,293.2L243.7,293.2L243.7,293.2L244.5,293.2L244.5,293.2L245.3,293.2L245.3,293.2L246.1,293.2L246.1,293.2L246.9,293.2L246.9,293.2L247.7,293.2L247.7,293.2L248.5,293.2L248.5,293.2L249.4,293.2L249.4,293.2L250.2,293.2L250.2,293.2L251.0,293.2L251.0,293.2L251.8,293.2L251.8,293.2L252.6,293.2L252.6,293.2L253.4,293.2L253.4,293.2L254.2,293.2L254.2,293.2L255.0,293.2L255.0,293.2L255.8,293.2L255.8,293.2L256.6,293.2L256.6,293.2L257.5,293.2L257.5,293.2L258.3,293.2L258.3,293.2L259.1,293.2L259.1,293.2L259.9,293.2L259.9,293.2L260.7,293.2L260.7,293.2L261.5,293.2L261.5,293.2L262.3,293.2L262.3,293.2L263.1,293.2L263.1,293.2L263.9,293.2L263.9,293.2L264.7,293.2L264.7,293.2L265.6,293.2L265.6,293.2L266.4,293.2L266.4,293.2L267.2,293.2L267.2,293.2L268.0,293.2L268.0,293.2L268.8,293.2L268.8,293.2L269.6,293.2L269.6,293.2L270.4,293.2L270.4,293.2L271.2,293.2L271.2,293.2L272.0,293.2L272.0,293.2L272.8,293.2L272.8,293.2L273.7,293.2L273.7,293.2L274.5,293.2L274.5,293.2L275.3,293.2L275.3,293.2L276.1,293.2L276.1,293.2L276.9,293.2L276.9,293.2L277.7,293.2L277.7,293.2L278.5,293.2L278.5,293.2L279.3,293.2L279.3,293.1L280.1,293.1L280.1,291.3L280.9,291.3L280.9,289.4L281.8,289.4L281.8,288.8L282.6,288.8L282.6,287.4L283.4,287.4L283.4,288.8L284.2,288.8L284.2,290.0L285.0,290.0L285.0,289.9L285.8,289.9L285.8,285.3L286.6,285.3L286.6,285.3L287.4,285.3L287.4,285.9L288.2,285.9L288.2,285.2L289.0,285.2L289.0,289.0L289.9,289.0L289.9,287.0L290.7,287.0L290.7,290.5L291.5,290.5L291.5,292.3L292.3,292.3L292.3,293.2L293.1,293.2L293.1,293.2L293.9,293.2L293.9,293.2L294.7,293.2L294.7,293.2L295.5,293.2L295.5,293.2L296.3,293.2L296.3,293.2L297.1,293.2L297.1,293.2L298.0,293.2L298.0,293.2L298.8,293.2L298.8,293.2L299.6,293.2L299.6,293.2L300.4,293.2L300.4,293.2L301.2,293.2L301.2,293.2L302.0,293.2L302.0,293.2L302.8,293.2L302.8,293.2L303.6,293.2L303.6,293.2L304.4,293.2L304.4,293.2L305.2,293.2L305.2,293.2L306.1,293.2L306.1,293.2L306.9,293.2L306.9,293.2L307.7,293.2L307.7,293.2L308.5,293.2L308.5,293.2L309.3,293.2L309.3,293.2L310.1,293.2L310.1,293.2L310.9,293.2L310.9,293.2L311.7,293.2L311.7,293.2L312.5,293.2L312.5,293.2L313.3,293.2L313.3,290.6L314.2,290.6L314.2,290.5L315.0,290.5L315.0,291.0L315.8,291.0L315.8,291.3L316.6,291.3L316.6,290.4L317.4,290.4L317.4,291.9L318.2,291.9L318.2,290.4L319.0,290.4L319.0,291.3L319.8,291.3L319.8,289.8L320.6,289.8L320.6,290.5L321.4,290.5L321.4,293.2L322.3,293.2L322.3,293.2L323.1,293.2L323.1,293.2L323.9,293.2L323.9,293.2L324.7,293.2L324.7,293.2L325.5,293.2L325.5,293.2L326.3,293.2L326.3,293.2L327.1,293.2L327.1,293.2L327.9,293.2L327.9,293.2L328.7,293.2L328.7,293.2L329.5,293.2L329.5,293.2L330.4,293.2L330.4,293.2L331.2,293.2L331.2,293.2L332.0,293.2L332.0,293.2L332.8,293.2L332.8,293.2L333.6,293.2L333.6,293.2L334.4,293.2L334.4,293.2L335.2,293.2L335.2,293.2L336.0,293.2L336.0,293.2L336.8,293.2L336.8,293.2L337.6,293.2L337.6,293.2L338.5,293.2L338.5,293.2L339.3,293.2L339.3,293.2L340.1,293.2L340.1,293.2L340.9,293.2L340.9,293.2L341.7,293.2L341.7,293.2L342.5,293.2L342.5,293.2L343.3,293.2L343.3,293.2L344.1,293.2L344.1,293.2L344.9,293.2L344.9,293.2L345.7,293.2L345.7,293.2L346.6,293.2L346.6,293.2L347.4,293.2L347.4,293.2L348.2,293.2L348.2,293.2L349.0,293.2L349.0,293.2L349.8,293.2L349.8,293.2L350.6,293.2L350.6,293.2L351.4,293.2L351.4,293.2L352.2,293.2L352.2,293.2L353.0,293.2L353.0,293.2L353.8,293.2L353.8,293.2L354.7,293.2L354.7,293.2L355.5,293.2L355.5,293.2L356.3,293.2L356.3,293.2L357.1,293.2L357.1,293.2L357.9,293.2L357.9,293.2L358.7,293.2L358.7,293.2L359.5,293.2L359.5,293.2L360.3,293.2L360.3,293.2L361.1,293.2L361.1,293.2L361.9,293.2L361.9,293.2L362.8,293.2L362.8,293.2L363.6,293.2L363.6,293.2L364.4,293.2L364.4,293.2L365.2,293.2L365.2,293.2L366.0,293.2L366.0,293.2L366.8,293.2L366.8,293.0L367.6,293.0L367.6,293.2L368.4,293.2L368.4,293.2L369.2,293.2L369.2,293.2L370.0,293.2L370.0,293.2L370.9,293.2L370.9,293.2L371.7,293.2L371.7,293.2L372.5,293.2L372.5,293.2L373.3,293.2L373.3,293.2L374.1,293.2L374.1,293.2L374.9,293.2L374.9,293.2L375.7,293.2L375.7,293.2L376.5,293.2L376.5,293.2L377.3,293.2L377.3,293.2L378.1,293.2L378.1,293.2L379.0,293.2L379.0,293.2L379.8,293.2L379.8,293.2L380.6,293.2L380.6,293.2L381.4,293.2L381.4,293.2L382.2,293.2L382.2,293.2L383.0,293.2L383.0,293.2L383.8,293.2L383.8,293.2L384.6,293.2L384.6,293.2L385.4,293.2L385.4,293.2L386.2,293.2L386.2,293.2L387.1,293.2L387.1,293.2L387.9,293.2L387.9,292.1L388.7,292.1L388.7,292.9L389.5,292.9L389.5,291.8L390.3,291.8L390.3,293.2L391.1,293.2L391.1,292.7L391.9,292.7L391.9,291.2L392.7,291.2L392.7,292.3L393.5,292.3L393.5,291.7L394.3,291.7L394.3,293.2L395.2,293.2L395.2,293.2L396.0,293.2L396.0,293.2L396.8,293.2L396.8,293.2L397.6,293.2L397.6,291.4L398.4,291.4L398.4,292.6L399.2,292.6L399.2,293.2L400.0,293.2L400.0,293.2L400.8,293.2L400.8,293.2L401.6,293.2L401.6,293.2L402.4,293.2L402.4,293.2L403.3,293.2L403.3,293.1L404.1,293.1L404.1,290.6L404.9,290.6L404.9,292.4L405.7,292.4L405.7,292.4L406.5,292.4L406.5,290.9L407.3,290.9L407.3,291.0L408.1,291.0L408.1,290.9L408.9,290.9L408.9,291.4L409.7,291.4L409.7,291.6L410.5,291.6L410.5,291.1L411.4,291.1L411.4,291.8L412.2,291.8L412.2,290.7L413.0,290.7L413.0,289.6L413.8,289.6L413.8,289.4L414.6,289.4L414.6,290.5L415.4,290.5L415.4,290.7L416.2,290.7L416.2,289.6L417.0,289.6L417.0,290.3L417.8,290.3L417.8,290.7L418.6,290.7L418.6,288.9L419.5,288.9L419.5,287.5L420.3,287.5L420.3,287.9L421.1,287.9L421.1,287.2L421.9,287.2L421.9,285.2L422.7,285.2L422.7,283.7L423.5,283.7L423.5,285.0L424.3,285.0L424.3,283.6L425.1,283.6L425.1,282.2L425.9,282.2L425.9,280.8L426.7,280.8L426.7,280.8L427.6,280.8L427.6,279.7L428.4,279.7L428.4,280.1L429.2,280.1L429.2,279.4L430.0,279.4L430.0,279.7L430.8,279.7L430.8,280.1L431.6,280.1L431.6,279.7L432.4,279.7L432.4,281.2L433.2,281.2L433.2,281.8L434.0,281.8L434.0,280.5L434.8,280.5L434.8,282.4L435.7,282.4L435.7,281.1L436.5,281.1L436.5,282.2L437.3,282.2L437.3,282.5L438.1,282.5L438.1,284.3L438.9,284.3L438.9,283.2L439.7,283.2L439.7,285.7L440.5,285.7L440.5,285.2L441.3,285.2L441.3,285.5L442.1,285.5L442.1,284.1L442.9,284.1L442.9,286.0L443.8,286.0L443.8,286.7L444.6,286.7L444.6,288.4L445.4,288.4L445.4,288.5L446.2,288.5L446.2,287.2L447.0,287.2L447.0,287.9L447.8,287.9L447.8,291.4L448.6,291.4L448.6,292.5L449.4,292.5L449.4,291.6L450.2,291.6L450.2,290.8L451.0,290.8L451.0,290.8L451.9,290.8L451.9,292.3L452.7,292.3L452.7,291.9L453.5,291.9L453.5,291.3L454.3,291.3L454.3,289.8L455.1,289.8L455.1,289.2L455.9,289.2L455.9,289.2L456.7,289.2L456.7,290.1L457.5,290.1L457.5,289.7L458.3,289.7L458.3,289.5L459.1,289.5L459.1,288.5L460.0,288.5L460.0,290.5L460.8,290.5L460.8,292.0L461.6,292.0L461.6,288.8L462.4,288.8L462.4,289.1L463.2,289.1L463.2,287.7L464.0,287.7L464.0,286.3L464.8,286.3L464.8,286.7L465.6,286.7L465.6,285.1L466.4,285.1L466.4,284.0L467.2,284.0L467.2,284.2L468.1,284.2L468.1,283.5L468.9,283.5L468.9,285.9L469.7,285.9L469.7,285.7L470.5,285.7L470.5,285.9L471.3,285.9L471.3,283.4L472.1,283.4L472.1,286.4L472.9,286.4L472.9,286.7L473.7,286.7L473.7,286.6L474.5,286.6L474.5,288.5L475.3,288.5L475.3,289.1L476.2,289.1L476.2,290.8L477.0,290.8L477.0,293.0L477.8,293.0L477.8,293.1L478.6,293.1L478.6,292.4L479.4,292.4L479.4,291.3L480.2,291.3L480.2,291.0L481.0,291.0L481.0,290.5L481.8,290.5L481.8,292.5L482.6,292.5L482.6,291.1L483.4,291.1L483.4,293.1L484.3,293.1L484.3,293.2L485.1,293.2L485.1,293.2L485.9,293.2L485.9,293.1L486.7,293.1L486.7,292.5L487.5,292.5L487.5,293.2L488.3,293.2L488.3,293.2L489.1,293.2L489.1,293.2L489.9,293.2L489.9,293.2L490.7,293.2L490.7,293.2L491.5,293.2L491.5,293.2L492.4,293.2L492.4,293.2L493.2,293.2L493.2,293.2L494.0,293.2L494.0,293.2L494.8,293.2L494.8,293.2L495.6,293.2L495.6,293.2L496.4,293.2L496.4,293.2L497.2,293.2L497.2,293.2L498.0,293.2L498.0,293.2L498.8,293.2L498.8,293.2L499.6,293.2L499.6,293.2L500.5,293.2L500.5,293.2L501.3,293.2L501.3,293.2L502.1,293.2L502.1,293.2L502.9,293.2L502.9,293.2L503.7,293.2L503.7,293.2L504.5,293.2L504.5,293.2L505.3,293.2L505.3,293.2L506.1,293.2L506.1,293.2L506.9,293.2L506.9,292.5L507.7,292.5L507.7,292.2L508.6,292.2L508.6,293.2L509.4,293.2L509.4,293.2L510.2,293.2L510.2,292.6L511.0,292.6L511.0,288.7L511.8,288.7L511.8,281.9L512.6,281.9L512.6,280.2L513.4,280.2L513.4,279.5L514.2,279.5L514.2,282.6L515.0,282.6L515.0,284.0L515.8,284.0L515.8,284.4L516.7,284.4L516.7,285.4L517.5,285.4L517.5,284.6L518.3,284.6L518.3,285.7L519.1,285.7L519.1,285.9L519.9,285.9L519.9,283.8L520.7,283.8L520.7,284.5L521.5,284.5L521.5,286.0L522.3,286.0L522.3,290.0L523.1,290.0L523.1,293.2L523.9,293.2L523.9,293.2L524.8,293.2L524.8,293.2L525.6,293.2L525.6,293.2L526.4,293.2L526.4,293.2L527.2,293.2L527.2,293.2L528.0,293.2L528.0,293.2L528.8,293.2L528.8,293.2L529.6,293.2L529.6,293.2L530.4,293.2L530.4,293.2L531.2,293.2L531.2,293.2L532.0,293.2L532.0,293.2L532.9,293.2L532.9,279.8L533.7,279.8L533.7,276.2L534.5,276.2L534.5,274.5L535.3,274.5L535.3,275.8L536.1,275.8L536.1,274.5L536.9,274.5L536.9,273.0L537.7,273.0L537.7,271.7L538.5,271.7L538.5,270.2L539.3,270.2L539.3,268.3L540.1,268.3L540.1,270.6L541.0,270.6L541.0,272.7L541.8,272.7L541.8,278.1L542.6,278.1L542.6,285.0L543.4,285.0L543.4,292.7L544.2,292.7L544.2,293.2L545.0,293.2L545.0,290.7L545.8,290.7L545.8,291.7L546.6,291.7L546.6,291.9L547.4,291.9L547.4,289.1L548.2,289.1L548.2,286.9L549.1,286.9L549.1,285.9L549.9,285.9L549.9,285.9L550.7,285.9L550.7,287.7L551.5,287.7L551.5,288.2L552.3,288.2L552.3,288.3L553.1,288.3L553.1,288.7L553.9,288.7L553.9,291.9L554.7,291.9L554.7,292.8L555.5,292.8L555.5,293.2L556.3,293.2L556.3,293.2L557.2,293.2L557.2,293.2L558.0,293.2L558.0,293.2L558.8,293.2L558.8,293.2L559.6,293.2L559.6,293.2L560.4,293.2L560.4,293.2L561.2,293.2L561.2,293.2L562.0,293.2L562.0,293.2L562.8,293.2L562.8,293.2L563.6,293.2L563.6,293.2L564.4,293.2L564.4,293.2L565.3,293.2L565.3,293.2L566.1,293.2L566.1,293.2L566.9,293.2L566.9,293.2L567.7,293.2L567.7,293.2L568.5,293.2L568.5,293.2L569.3,293.2L569.3,293.2L570.1,293.2L570.1,293.2L570.9,293.2L570.9,293.2L571.7,293.2L571.7,293.2L572.5,293.2L572.5,293.2L573.4,293.2L573.4,293.2L574.2,293.2L574.2,293.1L575.0,293.1L575.0,292.2L575.8,292.2L575.8,289.8L576.6,289.8L576.6,289.5L577.4,289.5L577.4,290.8L578.2,290.8L578.2,291.7L579.0,291.7L579.0,291.0L579.8,291.0L579.8,288.1L580.6,288.1L580.6,288.2L581.5,288.2L581.5,287.9L582.3,287.9L582.3,288.0L583.1,288.0L583.1,289.4L583.9,289.4L583.9,287.1L584.7,287.1L584.7,287.9L585.5,287.9L585.5,289.0L586.3,289.0L586.3,290.7L587.1,290.7L587.1,291.8L587.9,291.8L587.9,290.6L588.7,290.6L588.7,291.4L589.6,291.4L589.6,290.7L590.4,290.7L590.4,290.5L591.2,290.5L591.2,289.3L592.0,289.3L592.0,288.7L592.8,288.7L592.8,283.9L593.6,283.9L593.6,283.0L594.4,283.0L594.4,282.7L595.2,282.7L595.2,283.9L596.0,283.9L596.0,283.6L596.8,283.6L596.8,285.0L597.7,285.0L597.7,284.2L598.5,284.2L598.5,283.7L599.3,283.7L599.3,282.5L600.1,282.5L600.1,283.2L600.9,283.2L600.9,284.1L601.7,284.1L601.7,284.5L602.5,284.5L602.5,285.9L603.3,285.9L603.3,286.7L604.1,286.7L604.1,285.4L604.9,285.4L604.9,285.7L605.8,285.7L605.8,285.8L606.6,285.8L606.6,284.2L607.4,284.2L607.4,284.8L608.2,284.8L608.2,285.3L609.0,285.3L609.0,288.3L609.8,288.3L609.8,288.0L610.6,288.0L610.6,289.6L611.4,289.6L611.4,290.8L612.2,290.8L612.2,292.0L613.0,292.0L613.0,293.2L613.9,293.2L613.9,293.2L614.7,293.2L614.7,292.3L615.5,292.3L615.5,291.6L616.3,291.6L616.3,290.2L617.1,290.2L617.1,288.9L617.9,288.9L617.9,290.2L618.7,290.2L618.7,290.6L619.5,290.6L619.5,292.5L620.3,292.5L620.3,291.7L621.1,291.7L621.1,291.8L622.0,291.8L622.0,291.4L622.8,291.4L622.8,292.4L623.6,292.4L623.6,290.4L624.4,290.4L624.4,292.4L625.2,292.4L625.2,292.7L626.0,292.7L626.0,293.2L626.8,293.2L626.8,292.7L627.6,292.7L627.6,292.8L628.4,292.8L628.4,291.0L629.2,291.0L629.2,289.1L630.1,289.1L630.1,285.6L630.9,285.6L630.9,286.4L631.7,286.4L631.7,285.5L632.5,285.5L632.5,283.1L633.3,283.1L633.3,284.3L634.1,284.3L634.1,285.2L634.9,285.2L634.9,286.2L635.7,286.2L635.7,284.3L636.5,284.3L636.5,283.6L637.3,283.6L637.3,282.7L638.2,282.7L638.2,285.0L639.0,285.0L639.0,284.6L639.8,284.6L639.8,285.2L640.6,285.2L640.6,285.9L641.4,285.9L641.4,286.5L642.2,286.5L642.2,285.9L643.0,285.9L643.0,283.6L643.8,283.6L643.8,258.2L644.6,258.2L644.6,260.4L645.4,260.4L645.4,265.6L646.3,265.6L646.3,270.1L647.1,270.1L647.1,275.0L647.9,275.0L647.9,275.3L648.7,275.3L648.7,276.7L649.5,276.7L649.5,273.1L650.3,273.1L650.3,271.9L651.1,271.9L651.1,273.0L651.9,273.0L651.9,275.7L652.7,275.7L652.7,283.1L653.5,283.1L653.5,293.2L654.4,293.2L654.4,293.2L655.2,293.2L655.2,293.2L656.0,293.2L656.0,293.2L656.8,293.2L656.8,293.1L657.6,293.1L657.6,290.9L658.4,290.9L658.4,290.1L659.2,290.1L659.2,293.2L660.0,293.2L660.0,293.2L660.8,293.2L660.8,293.2L661.6,293.2L661.6,293.2L662.5,293.2L662.5,293.2L663.3,293.2L663.3,293.2L664.1,293.2L664.1,293.2L664.9,293.2L664.9,293.2L665.7,293.2L665.7,293.2L666.5,293.2L666.5,293.2L667.3,293.2L667.3,293.2L668.1,293.2L668.1,293.2L668.9,293.2L668.9,293.2L669.7,293.2L669.7,293.2L670.6,293.2L670.6,293.2L671.4,293.2L671.4,293.2L672.2,293.2L672.2,293.2L673.0,293.2L673.0,290.8L673.8,290.8L673.8,288.3L674.6,288.3L674.6,287.6L675.4,287.6L675.4,284.4L676.2,284.4L676.2,287.6L677.0,287.6L677.0,289.3L677.8,289.3L677.8,289.0L678.7,289.0L678.7,286.5L679.5,286.5L679.5,287.6L680.3,287.6L680.3,287.0L681.1,287.0L681.1,287.3L681.9,287.3L681.9,289.0L682.7,289.0L682.7,289.9L683.5,289.9L683.1,293.2Z" fill="#d9d9d9"/>
<path d="M107.2,293.2L106.8,293.2L107.6,293.2L107.6,293.2L108.4,293.2L108.4,293.2L109.2,293.2L109.2,293.2L110.0,293.2L110.0,293.2L110.8,293.2L110.8,293.2L111.7,293.2L111.7,293.2L112.5,293.2L112.5,293.2L113.3,293.2L113.3,293.2L114.1,293.2L114.1,293.2L114.9,293.2L114.9,293.2L115.7,293.2L115.7,293.2L116.5,293.2L116.5,293.2L117.3,293.2L117.3,293.2L118.1,293.2L118.1,293.2L118.9,293.2L118.9,293.2L119.8,293.2L119.8,293.2L120.6,293.2L120.6,293.2L121.4,293.2L121.4,293.2L122.2,293.2L122.2,293.2L123.0,293.2L123.0,293.2L123.8,293.2L123.8,293.2L124.6,293.2L124.6,293.2L125.4,293.2L125.4,293.2L126.2,293.2L126.2,293.2L127.0,293.2L127.0,293.2L127.9,293.2L127.9,293.2L128.7,293.2L128.7,293.2L129.5,293.2L129.5,293.2L130.3,293.2L130.3,293.2L131.1,293.2L131.1,293.2L131.9,293.2L131.9,293.2L132.7,293.2L132.7,293.2L133.5,293.2L133.5,293.2L134.3,293.2L134.3,293.2L135.1,293.2L135.1,293.2L136.0,293.2L136.0,293.2L136.8,293.2L136.8,293.2L137.6,293.2L137.6,293.2L138.4,293.2L138.4,293.2L139.2,293.2L139.2,293.2L140.0,293.2L140.0,293.2L140.8,293.2L140.8,293.2L141.6,293.2L141.6,293.2L142.4,293.2L142.4,293.2L143.2,293.2L143.2,293.2L144.1,293.2L144.1,293.2L144.9,293.2L144.9,293.2L145.7,293.2L145.7,293.2L146.5,293.2L146.5,293.2L147.3,293.2L147.3,293.2L148.1,293.2L148.1,293.2L148.9,293.2L148.9,293.2L149.7,293.2L149.7,293.2L150.5,293.2L150.5,293.2L151.3,293.2L151.3,293.2L152.2,293.2L152.2,293.2L153.0,293.2L153.0,293.2L153.8,293.2L153.8,293.2L154.6,293.2L154.6,293.5L155.4,293.5L155.4,293.2L156.2,293.2L156.2,293.3L157.0,293.3L157.0,293.2L157.8,293.2L157.8,293.2L158.6,293.2L158.6,294.7L159.4,294.7L159.4,293.2L160.3,293.2L160.3,293.6L161.1,293.6L161.1,293.7L161.9,293.7L161.9,293.2L162.7,293.2L162.7,293.2L163.5,293.2L163.5,293.2L164.3,293.2L164.3,293.2L165.1,293.2L165.1,293.2L165.9,293.2L165.9,293.2L166.7,293.2L166.7,293.2L167.5,293.2L167.5,293.2L168.4,293.2L168.4,293.2L169.2,293.2L169.2,293.2L170.0,293.2L170.0,293.2L170.8,293.2L170.8,293.2L171.6,293.2L171.6,293.2L172.4,293.2L172.4,293.2L173.2,293.2L173.2,293.2L174.0,293.2L174.0,293.2L174.8,293.2L174.8,293.2L175.6,293.2L175.6,293.2L176.5,293.2L176.5,293.2L177.3,293.2L177.3,293.2L178.1,293.2L178.1,293.2L178.9,293.2L178.9,293.2L179.7,293.2L179.7,293.2L180.5,293.2L180.5,293.2L181.3,293.2L181.3,293.2L182.1,293.2L182.1,293.2L182.9,293.2L182.9,293.2L183.7,293.2L183.7,293.2L184.6,293.2L184.6,293.2L185.4,293.2L185.4,293.2L186.2,293.2L186.2,293.2L187.0,293.2L187.0,293.2L187.8,293.2L187.8,293.2L188.6,293.2L188.6,293.2L189.4,293.2L189.4,293.2L190.2,293.2L190.2,293.6L191.0,293.6L191.0,298.2L191.8,298.2L191.8,297.9L192.7,297.9L192.7,300.5L193.5,300.5L193.5,304.0L194.3,304.0L194.3,308.9L195.1,308.9L195.1,311.8L195.9,311.8L195.9,312.6L196.7,312.6L196.7,314.9L197.5,314.9L197.5,312.8L198.3,312.8L198.3,310.2L199.1,310.2L199.1,311.4L199.9,311.4L199.9,308.9L200.8,308.9L200.8,308.7L201.6,308.7L201.6,311.2L202.4,311.2L202.4,311.6L203.2,311.6L203.2,315.4L204.0,315.4L204.0,313.3L204.8,313.3L204.8,309.3L205.6,309.3L205.6,308.6L206.4,308.6L206.4,307.9L207.2,307.9L207.2,305.4L208.0,305.4L208.0,307.1L208.9,307.1L208.9,308.6L209.7,308.6L209.7,307.9L210.5,307.9L210.5,303.9L211.3,303.9L211.3,304.2L212.1,304.2L212.1,300.5L212.9,300.5L212.9,298.7L213.7,298.7L213.7,297.0L214.5,297.0L214.5,294.3L215.3,294.3L215.3,293.2L216.1,293.2L216.1,293.2L217.0,293.2L217.0,293.2L217.8,293.2L217.8,293.2L218.6,293.2L218.6,293.2L219.4,293.2L219.4,293.2L220.2,293.2L220.2,293.2L221.0,293.2L221.0,293.2L221.8,293.2L221.8,293.2L222.6,293.2L222.6,293.2L223.4,293.2L223.4,293.2L224.2,293.2L224.2,293.2L225.1,293.2L225.1,293.2L225.9,293.2L225.9,293.2L226.7,293.2L226.7,293.2L227.5,293.2L227.5,293.2L228.3,293.2L228.3,293.2L229.1,293.2L229.1,293.2L229.9,293.2L229.9,293.2L230.7,293.2L230.7,293.2L231.5,293.2L231.5,293.2L232.3,293.2L232.3,293.2L233.2,293.2L233.2,293.2L234.0,293.2L234.0,293.2L234.8,293.2L234.8,293.2L235.6,293.2L235.6,293.2L236.4,293.2L236.4,293.2L237.2,293.2L237.2,293.2L238.0,293.2L238.0,293.2L238.8,293.2L238.8,293.2L239.6,293.2L239.6,293.2L240.4,293.2L240.4,293.2L241.3,293.2L241.3,294.5L242.1,294.5L242.1,295.0L242.9,295.0L242.9,294.7L243.7,294.7L243.7,297.1L244.5,297.1L244.5,299.3L245.3,299.3L245.3,308.3L246.1,308.3L246.1,309.2L246.9,309.2L246.9,308.2L247.7,308.2L247.7,310.0L248.5,310.0L248.5,311.8L249.4,311.8L249.4,313.8L250.2,313.8L250.2,316.1L251.0,316.1L251.0,319.7L251.8,319.7L251.8,320.5L252.6,320.5L252.6,322.7L253.4,322.7L253.4,325.9L254.2,325.9L254.2,327.5L255.0,327.5L255.0,326.7L255.8,326.7L255.8,324.4L256.6,324.4L256.6,323.7L257.5,323.7L257.5,322.8L258.3,322.8L258.3,318.4L259.1,318.4L259.1,316.8L259.9,316.8L259.9,315.1L260.7,315.1L260.7,313.9L261.5,313.9L261.5,311.9L262.3,311.9L262.3,310.3L263.1,310.3L263.1,306.2L263.9,306.2L263.9,303.4L264.7,303.4L264.7,297.5L265.6,297.5L265.6,298.3L266.4,298.3L266.4,297.5L267.2,297.5L267.2,300.5L268.0,300.5L268.0,304.9L268.8,304.9L268.8,305.7L269.6,305.7L269.6,305.3L270.4,305.3L270.4,302.7L271.2,302.7L271.2,301.0L272.0,301.0L272.0,297.8L272.8,297.8L272.8,297.0L273.7,297.0L273.7,293.6L274.5,293.6L274.5,293.2L275.3,293.2L275.3,294.7L276.1,294.7L276.1,297.2L276.9,297.2L276.9,299.5L277.7,299.5L277.7,295.5L278.5,295.5L278.5,295.2L279.3,295.2L279.3,293.2L280.1,293.2L280.1,293.2L280.9,293.2L280.9,293.2L281.8,293.2L281.8,293.2L282.6,293.2L282.6,293.2L283.4,293.2L283.4,293.2L284.2,293.2L284.2,293.2L285.0,293.2L285.0,293.2L285.8,293.2L285.8,293.2L286.6,293.2L286.6,293.2L287.4,293.2L287.4,293.2L288.2,293.2L288.2,293.2L289.0,293.2L289.0,293.2L289.9,293.2L289.9,293.2L290.7,293.2L290.7,293.2L291.5,293.2L291.5,293.2L292.3,293.2L292.3,294.7L293.1,294.7L293.1,297.0L293.9,297.0L293.9,297.5L294.7,297.5L294.7,297.5L295.5,297.5L295.5,297.9L296.3,297.9L296.3,297.8L297.1,297.8L297.1,297.4L298.0,297.4L298.0,299.0L298.8,299.0L298.8,296.8L299.6,296.8L299.6,298.6L300.4,298.6L300.4,298.3L301.2,298.3L301.2,297.9L302.0,297.9L302.0,297.5L302.8,297.5L302.8,296.6L303.6,296.6L303.6,296.6L304.4,296.6L304.4,296.9L305.2,296.9L305.2,297.1L306.1,297.1L306.1,297.7L306.9,297.7L306.9,296.0L307.7,296.0L307.7,295.8L308.5,295.8L308.5,295.2L309.3,295.2L309.3,296.3L310.1,296.3L310.1,296.6L310.9,296.6L310.9,297.1L311.7,297.1L311.7,296.7L312.5,296.7L312.5,294.5L313.3,294.5L313.3,293.2L314.2,293.2L314.2,293.2L315.0,293.2L315.0,293.2L315.8,293.2L315.8,293.2L316.6,293.2L316.6,293.2L317.4,293.2L317.4,293.2L318.2,293.2L318.2,293.2L319.0,293.2L319.0,293.2L319.8,293.2L319.8,293.2L320.6,293.2L320.6,293.2L321.4,293.2L321.4,294.6L322.3,294.6L322.3,297.6L323.1,297.6L323.1,301.0L323.9,301.0L323.9,301.1L324.7,301.1L324.7,301.2L325.5,301.2L325.5,302.3L326.3,302.3L326.3,302.8L327.1,302.8L327.1,303.0L327.9,303.0L327.9,302.6L328.7,302.6L328.7,301.5L329.5,301.5L329.5,300.6L330.4,300.6L330.4,298.5L331.2,298.5L331.2,298.1L332.0,298.1L332.0,297.3L332.8,297.3L332.8,298.0L333.6,298.0L333.6,295.8L334.4,295.8L334.4,297.7L335.2,297.7L335.2,298.2L336.0,298.2L336.0,296.9L336.8,296.9L336.8,296.3L337.6,296.3L337.6,296.0L338.5,296.0L338.5,295.7L339.3,295.7L339.3,296.7L340.1,296.7L340.1,296.2L340.9,296.2L340.9,295.5L341.7,295.5L341.7,296.4L342.5,296.4L342.5,299.0L343.3,299.0L343.3,299.0L344.1,299.0L344.1,300.2L344.9,300.2L344.9,299.2L345.7,299.2L345.7,297.3L346.6,297.3L346.6,297.1L347.4,297.1L347.4,296.6L348.2,296.6L348.2,296.1L349.0,296.1L349.0,297.5L349.8,297.5L349.8,298.8L350.6,298.8L350.6,298.0L351.4,298.0L351.4,299.0L352.2,299.0L352.2,297.7L353.0,297.7L353.0,295.8L353.8,295.8L353.8,295.7L354.7,295.7L354.7,297.0L355.5,297.0L355.5,298.4L356.3,298.4L356.3,302.7L357.1,302.7L357.1,305.7L357.9,305.7L357.9,306.9L358.7,306.9L358.7,308.0L359.5,308.0L359.5,307.8L360.3,307.8L360.3,304.3L361.1,304.3L361.1,305.1L361.9,305.1L361.9,303.0L362.8,303.0L362.8,302.5L363.6,302.5L363.6,302.4L364.4,302.4L364.4,300.3L365.2,300.3L365.2,299.2L366.0,299.2L366.0,297.1L366.8,297.1L366.8,293.2L367.6,293.2L367.6,294.4L368.4,294.4L368.4,295.6L369.2,295.6L369.2,294.2L370.0,294.2L370.0,293.7L370.9,293.7L370.9,293.2L371.7,293.2L371.7,295.7L372.5,295.7L372.5,296.5L373.3,296.5L373.3,296.0L374.1,296.0L374.1,296.5L374.9,296.5L374.9,298.2L375.7,298.2L375.7,295.9L376.5,295.9L376.5,296.8L377.3,296.8L377.3,296.3L378.1,296.3L378.1,295.9L379.0,295.9L379.0,294.6L379.8,294.6L379.8,295.1L380.6,295.1L380.6,295.0L381.4,295.0L381.4,295.7L382.2,295.7L382.2,296.7L383.0,296.7L383.0,296.6L383.8,296.6L383.8,295.0L384.6,295.0L384.6,294.7L385.4,294.7L385.4,293.6L386.2,293.6L386.2,294.0L387.1,294.0L387.1,293.4L387.9,293.4L387.9,293.2L388.7,293.2L388.7,293.2L389.5,293.2L389.5,293.2L390.3,293.2L390.3,293.2L391.1,293.2L391.1,293.2L391.9,293.2L391.9,293.2L392.7,293.2L392.7,293.2L393.5,293.2L393.5,293.2L394.3,293.2L394.3,294.0L395.2,294.0L395.2,295.0L396.0,295.0L396.0,293.5L396.8,293.5L396.8,294.1L397.6,294.1L397.6,293.2L398.4,293.2L398.4,293.2L399.2,293.2L399.2,294.9L400.0,294.9L400.0,293.4L400.8,293.4L400.8,294.8L401.6,294.8L401.6,294.3L402.4,294.3L402.4,294.5L403.3,294.5L403.3,293.2L404.1,293.2L404.1,293.2L404.9,293.2L404.9,293.2L405.7,293.2L405.7,293.2L406.5,293.2L406.5,293.2L407.3,293.2L407.3,293.2L408.1,293.2L408.1,293.2L408.9,293.2L408.9,293.2L409.7,293.2L409.7,293.2L410.5,293.2L410.5,293.2L411.4,293.2L411.4,293.2L412.2,293.2L412.2,293.2L413.0,293.2L413.0,293.2L413.8,293.2L413.8,293.2L414.6,293.2L414.6,293.2L415.4,293.2L415.4,293.2L416.2,293.2L416.2,293.2L417.0,293.2L417.0,293.2L417.8,293.2L417.8,293.2L418.6,293.2L418.6,293.2L419.5,293.2L419.5,293.2L420.3,293.2L420.3,293.2L421.1,293.2L421.1,293.2L421.9,293.2L421.9,293.2L422.7,293.2L422.7,293.2L423.5,293.2L423.5,293.2L424.3,293.2L424.3,293.2L425.1,293.2L425.1,293.2L425.9,293.2L425.9,293.2L426.7,293.2L426.7,293.2L427.6,293.2L427.6,293.2L428.4,293.2L428.4,293.2L429.2,293.2L429.2,293.2L430.0,293.2L430.0,293.2L430.8,293.2L430.8,293.2L431.6,293.2L431.6,293.2L432.4,293.2L432.4,293.2L433.2,293.2L433.2,293.2L434.0,293.2L434.0,293.2L434.8,293.2L434.8,293.2L435.7,293.2L435.7,293.2L436.5,293.2L436.5,293.2L437.3,293.2L437.3,293.2L438.1,293.2L438.1,293.2L438.9,293.2L438.9,293.2L439.7,293.2L439.7,293.2L440.5,293.2L440.5,293.2L441.3,293.2L441.3,293.2L442.1,293.2L442.1,293.2L442.9,293.2L442.9,293.2L443.8,293.2L443.8,293.2L444.6,293.2L444.6,293.2L445.4,293.2L445.4,293.2L446.2,293.2L446.2,293.2L447.0,293.2L447.0,293.2L447.8,293.2L447.8,293.2L448.6,293.2L448.6,293.2L449.4,293.2L449.4,293.2L450.2,293.2L450.2,293.2L451.0,293.2L451.0,293.2L451.9,293.2L451.9,293.2L452.7,293.2L452.7,293.2L453.5,293.2L453.5,293.2L454.3,293.2L454.3,293.2L455.1,293.2L455.1,293.2L455.9,293.2L455.9,293.2L456.7,293.2L456.7,293.2L457.5,293.2L457.5,293.2L458.3,293.2L458.3,293.2L459.1,293.2L459.1,293.2L460.0,293.2L460.0,293.2L460.8,293.2L460.8,293.2L461.6,293.2L461.6,293.2L462.4,293.2L462.4,293.2L463.2,293.2L463.2,293.2L464.0,293.2L464.0,293.2L464.8,293.2L464.8,293.2L465.6,293.2L465.6,293.2L466.4,293.2L466.4,293.2L467.2,293.2L467.2,293.2L468.1,293.2L468.1,293.2L468.9,293.2L468.9,293.2L469.7,293.2L469.7,293.2L470.5,293.2L470.5,293.2L471.3,293.2L471.3,293.2L472.1,293.2L472.1,293.2L472.9,293.2L472.9,293.2L473.7,293.2L473.7,293.2L474.5,293.2L474.5,293.2L475.3,293.2L475.3,293.2L476.2,293.2L476.2,293.2L477.0,293.2L477.0,293.2L477.8,293.2L477.8,293.2L478.6,293.2L478.6,293.2L479.4,293.2L479.4,293.2L480.2,293.2L480.2,293.2L481.0,293.2L481.0,293.2L481.8,293.2L481.8,293.2L482.6,293.2L482.6,293.2L483.4,293.2L483.4,293.2L484.3,293.2L484.3,293.8L485.1,293.8L485.1,294.6L485.9,294.6L485.9,293.2L486.7,293.2L486.7,293.2L487.5,293.2L487.5,295.2L488.3,295.2L488.3,295.0L489.1,295.0L489.1,296.3L489.9,296.3L489.9,299.1L490.7,299.1L490.7,297.7L491.5,297.7L491.5,295.5L492.4,295.5L492.4,295.4L493.2,295.4L493.2,296.9L494.0,296.9L494.0,297.4L494.8,297.4L494.8,296.4L495.6,296.4L495.6,295.2L496.4,295.2L496.4,296.5L497.2,296.5L497.2,296.7L498.0,296.7L498.0,295.0L498.8,295.0L498.8,295.4L499.6,295.4L499.6,294.1L500.5,294.1L500.5,295.5L501.3,295.5L501.3,299.2L502.1,299.2L502.1,303.4L502.9,303.4L502.9,299.0L503.7,299.0L503.7,298.0L504.5,298.0L504.5,295.4L505.3,295.4L505.3,296.3L506.1,296.3L506.1,294.7L506.9,294.7L506.9,293.2L507.7,293.2L507.7,293.2L508.6,293.2L508.6,293.9L509.4,293.9L509.4,293.6L510.2,293.6L510.2,293.2L511.0,293.2L511.0,293.2L511.8,293.2L511.8,293.2L512.6,293.2L512.6,293.2L513.4,293.2L513.4,293.2L514.2,293.2L514.2,293.2L515.0,293.2L515.0,293.2L515.8,293.2L515.8,293.2L516.7,293.2L516.7,293.2L517.5,293.2L517.5,293.2L518.3,293.2L518.3,293.2L519.1,293.2L519.1,293.2L519.9,293.2L519.9,293.2L520.7,293.2L520.7,293.2L521.5,293.2L521.5,293.2L522.3,293.2L522.3,293.2L523.1,293.2L523.1,296.3L523.9,296.3L523.9,295.2L524.8,295.2L524.8,295.4L525.6,295.4L525.6,295.2L526.4,295.2L526.4,294.5L527.2,294.5L527.2,296.6L528.0,296.6L528.0,297.1L528.8,297.1L528.8,299.5L529.6,299.5L529.6,303.0L530.4,303.0L530.4,300.7L531.2,300.7L531.2,297.1L532.0,297.1L532.0,293.5L532.9,293.5L532.9,293.2L533.7,293.2L533.7,293.2L534.5,293.2L534.5,293.2L535.3,293.2L535.3,293.2L536.1,293.2L536.1,293.2L536.9,293.2L536.9,293.2L537.7,293.2L537.7,293.2L538.5,293.2L538.5,293.2L539.3,293.2L539.3,293.2L540.1,293.2L540.1,293.2L541.0,293.2L541.0,293.2L541.8,293.2L541.8,293.2L542.6,293.2L542.6,293.2L543.4,293.2L543.4,293.2L544.2,293.2L544.2,293.8L545.0,293.8L545.0,293.2L545.8,293.2L545.8,293.2L546.6,293.2L546.6,293.2L547.4,293.2L547.4,293.2L548.2,293.2L548.2,293.2L549.1,293.2L549.1,293.2L549.9,293.2L549.9,293.2L550.7,293.2L550.7,293.2L551.5,293.2L551.5,293.2L552.3,293.2L552.3,293.2L553.1,293.2L553.1,293.2L553.9,293.2L553.9,293.2L554.7,293.2L554.7,293.2L555.5,293.2L555.5,295.4L556.3,295.4L556.3,296.6L557.2,296.6L557.2,299.6L558.0,299.6L558.0,301.5L558.8,301.5L558.8,300.2L559.6,300.2L559.6,302.6L560.4,302.6L560.4,302.3L561.2,302.3L561.2,302.1L562.0,302.1L562.0,302.2L562.8,302.2L562.8,300.7L563.6,300.7L563.6,299.7L564.4,299.7L564.4,300.0L565.3,300.0L565.3,298.0L566.1,298.0L566.1,297.0L566.9,297.0L566.9,295.1L567.7,295.1L567.7,294.2L568.5,294.2L568.5,293.2L569.3,293.2L569.3,295.4L570.1,295.4L570.1,295.5L570.9,295.5L570.9,297.0L571.7,297.0L571.7,294.5L572.5,294.5L572.5,293.9L573.4,293.9L573.4,293.6L574.2,293.6L574.2,293.2L575.0,293.2L575.0,293.2L575.8,293.2L575.8,293.2L576.6,293.2L576.6,293.2L577.4,293.2L577.4,293.2L578.2,293.2L578.2,293.2L579.0,293.2L579.0,293.2L579.8,293.2L579.8,293.2L580.6,293.2L580.6,293.2L581.5,293.2L581.5,293.2L582.3,293.2L582.3,293.2L583.1,293.2L583.1,293.2L583.9,293.2L583.9,293.2L584.7,293.2L584.7,293.2L585.5,293.2L585.5,293.2L586.3,293.2L586.3,293.2L587.1,293.2L587.1,293.2L587.9,293.2L587.9,293.2L588.7,293.2L588.7,293.2L589.6,293.2L589.6,293.2L590.4,293.2L590.4,293.2L591.2,293.2L591.2,293.2L592.0,293.2L592.0,293.2L592.8,293.2L592.8,293.2L593.6,293.2L593.6,293.2L594.4,293.2L594.4,293.2L595.2,293.2L595.2,293.2L596.0,293.2L596.0,293.2L596.8,293.2L596.8,293.2L597.7,293.2L597.7,293.2L598.5,293.2L598.5,293.2L599.3,293.2L599.3,293.2L600.1,293.2L600.1,293.2L600.9,293.2L600.9,293.2L601.7,293.2L601.7,293.2L602.5,293.2L602.5,293.2L603.3,293.2L603.3,293.2L604.1,293.2L604.1,293.2L604.9,293.2L604.9,293.2L605.8,293.2L605.8,293.2L606.6,293.2L606.6,293.2L607.4,293.2L607.4,293.2L608.2,293.2L608.2,293.2L609.0,293.2L609.0,293.2L609.8,293.2L609.8,293.2L610.6,293.2L610.6,293.2L611.4,293.2L611.4,293.2L612.2,293.2L612.2,293.2L613.0,293.2L613.0,294.1L613.9,294.1L613.9,294.4L614.7,294.4L614.7,293.2L615.5,293.2L615.5,293.2L616.3,293.2L616.3,293.2L617.1,293.2L617.1,293.2L617.9,293.2L617.9,293.2L618.7,293.2L618.7,293.2L619.5,293.2L619.5,293.2L620.3,293.2L620.3,293.2L621.1,293.2L621.1,293.2L622.0,293.2L622.0,293.2L622.8,293.2L622.8,293.2L623.6,293.2L623.6,293.2L624.4,293.2L624.4,293.2L625.2,293.2L625.2,293.2L626.0,293.2L626.0,294.5L626.8,294.5L626.8,293.2L627.6,293.2L627.6,293.2L628.4,293.2L628.4,293.2L629.2,293.2L629.2,293.2L630.1,293.2L630.1,293.2L630.9,293.2L630.9,293.2L631.7,293.2L631.7,293.2L632.5,293.2L632.5,293.2L633.3,293.2L633.3,293.2L634.1,293.2L634.1,293.2L634.9,293.2L634.9,293.2L635.7,293.2L635.7,293.2L636.5,293.2L636.5,293.2L637.3,293.2L637.3,293.2L638.2,293.2L638.2,293.2L639.0,293.2L639.0,293.2L639.8,293.2L639.8,293.2L640.6,293.2L640.6,293.2L641.4,293.2L641.4,293.2L642.2,293.2L642.2,293.2L643.0,293.2L643.0,293.2L643.8,293.2L643.8,293.2L644.6,293.2L644.6,293.2L645.4,293.2L645.4,293.2L646.3,293.2L646.3,293.2L647.1,293.2L647.1,293.2L647.9,293.2L647.9,293.2L648.7,293.2L648.7,293.2L649.5,293.2L649.5,293.2L650.3,293.2L650.3,293.2L651.1,293.2L651.1,293.2L651.9,293.2L651.9,293.2L652.7,293.2L652.7,293.2L653.5,293.2L653.5,308.1L654.4,308.1L654.4,306.5L655.2,306.5L655.2,301.1L656.0,301.1L656.0,295.6L656.8,295.6L656.8,293.2L657.6,293.2L657.6,293.2L658.4,293.2L658.4,293.2L659.2,293.2L659.2,293.3L660.0,293.3L660.0,295.2L660.8,295.2L660.8,296.5L661.6,296.5L661.6,295.8L662.5,295.8L662.5,300.0L663.3,300.0L663.3,301.7L664.1,301.7L664.1,303.0L664.9,303.0L664.9,303.2L665.7,303.2L665.7,305.9L666.5,305.9L666.5,304.5L667.3,304.5L667.3,304.2L668.1,304.2L668.1,304.1L668.9,304.1L668.9,301.7L669.7,301.7L669.7,300.3L670.6,300.3L670.6,299.0L671.4,299.0L671.4,297.7L672.2,297.7L672.2,295.1L673.0,295.1L673.0,293.2L673.8,293.2L673.8,293.2L674.6,293.2L674.6,293.2L675.4,293.2L675.4,293.2L676.2,293.2L676.2,293.2L677.0,293.2L677.0,293.2L677.8,293.2L677.8,293.2L678.7,293.2L678.7,293.2L679.5,293.2L679.5,293.2L680.3,293.2L680.3,293.2L681.1,293.2L681.1,293.2L681.9,293.2L681.9,293.2L682.7,293.2L682.7,293.2L683.5,293.2L683.1,293.2Z" fill="#ff0000"/>
<line x1="108.2" y1="291.9" x2="684.5" y2="291.9" stroke="#164a78" stroke-width="2.0" stroke-dasharray="4.3,1.8"/>
<rect x="200.4" y="242.5" width="18.2" height="5.3" fill="#d9d9d9"/>
<text x="221.2" y="248.3" font-family="'Liberation Sans',sans-serif" font-weight="700" font-size="9.7" fill="#5a5a5a" stroke="#5a5a5a" stroke-width="0.25" textLength="203" lengthAdjust="spacingAndGlyphs">Spread: Wage Growth Less Inflation Rate</text>
<line x1="487.1" y1="244.8" x2="504" y2="244.8" stroke="#003d6b" stroke-width="1.6" stroke-dasharray="4.2,2.2"/>
<text x="508" y="248.3" font-family="'Liberation Sans',sans-serif" font-weight="700" font-size="9.7" fill="#003d6b" stroke="#003d6b" stroke-width="0.25" textLength="42" lengthAdjust="spacingAndGlyphs">Average</text>
<text x="326.3" y="287.2" font-family="'Liberation Sans',sans-serif" font-weight="700" font-size="9.5" fill="#003d6b" stroke="#003d6b" stroke-width="0.25" textLength="41.2" lengthAdjust="spacingAndGlyphs">Average:</text>
<text x="373.2" y="287.2" font-family="'Liberation Sans',sans-serif" font-weight="700" font-size="9.5" fill="#003d6b" stroke="#003d6b" stroke-width="0.25" textLength="29.6" lengthAdjust="spacingAndGlyphs">0.25%</text>
<text x="685.9" y="287.3" font-family="'Liberation Sans',sans-serif" font-weight="700" font-size="9.5" fill="#8a8a8a" stroke="#8a8a8a" stroke-width="0.3" textLength="28.8" lengthAdjust="spacingAndGlyphs">0.65%</text>
<text x="42" y="252.7" font-family="'Liberation Sans',sans-serif" font-weight="700" font-size="9.8" fill="#858585" stroke="#858585" stroke-width="0.25" text-anchor="middle">Wages</text>
<text x="42" y="264.0" font-family="'Liberation Sans',sans-serif" font-weight="700" font-size="9.8" fill="#858585" stroke="#858585" stroke-width="0.25" text-anchor="middle">Above</text>
<text x="42" y="275.3" font-family="'Liberation Sans',sans-serif" font-weight="700" font-size="9.8" fill="#858585" stroke="#858585" stroke-width="0.25" text-anchor="middle">Inflation</text>
<text x="42" y="315.0" font-family="'Liberation Sans',sans-serif" font-weight="700" font-size="9.8" fill="#ff0000" stroke="#ff0000" stroke-width="0.25" text-anchor="middle">Wages</text>
<text x="42" y="326.1" font-family="'Liberation Sans',sans-serif" font-weight="700" font-size="9.8" fill="#ff0000" stroke="#ff0000" stroke-width="0.25" text-anchor="middle">Below</text>
<text x="42" y="337.2" font-family="'Liberation Sans',sans-serif" font-weight="700" font-size="9.8" fill="#ff0000" stroke="#ff0000" stroke-width="0.25" text-anchor="middle">Inflation</text>
<rect x="70.9" y="243.6" width="1.3" height="101.6" fill="url(#ag)"/>
<polyline points="68.3,247.8 71.55,243.0 74.8,247.8" fill="none" stroke="#858585" stroke-width="1.25"/>
<polyline points="68.3,340.9 71.55,345.7 74.8,340.9" fill="none" stroke="#ff0000" stroke-width="1.25"/>
<text transform="translate(109.8,346.0) rotate(-45)" font-family="'Liberation Sans',sans-serif" font-size="9.0" fill="#333" text-anchor="end">1965</text>
<text transform="translate(129.2,346.0) rotate(-45)" font-family="'Liberation Sans',sans-serif" font-size="9.0" fill="#333" text-anchor="end">1967</text>
<text transform="translate(148.7,346.0) rotate(-45)" font-family="'Liberation Sans',sans-serif" font-size="9.0" fill="#333" text-anchor="end">1969</text>
<text transform="translate(168.1,346.0) rotate(-45)" font-family="'Liberation Sans',sans-serif" font-size="9.0" fill="#333" text-anchor="end">1971</text>
<text transform="translate(187.6,346.0) rotate(-45)" font-family="'Liberation Sans',sans-serif" font-size="9.0" fill="#333" text-anchor="end">1973</text>
<text transform="translate(207.0,346.0) rotate(-45)" font-family="'Liberation Sans',sans-serif" font-size="9.0" fill="#333" text-anchor="end">1975</text>
<text transform="translate(226.4,346.0) rotate(-45)" font-family="'Liberation Sans',sans-serif" font-size="9.0" fill="#333" text-anchor="end">1977</text>
<text transform="translate(245.9,346.0) rotate(-45)" font-family="'Liberation Sans',sans-serif" font-size="9.0" fill="#333" text-anchor="end">1979</text>
<text transform="translate(265.3,346.0) rotate(-45)" font-family="'Liberation Sans',sans-serif" font-size="9.0" fill="#333" text-anchor="end">1981</text>
<text transform="translate(284.8,346.0) rotate(-45)" font-family="'Liberation Sans',sans-serif" font-size="9.0" fill="#333" text-anchor="end">1983</text>
<text transform="translate(304.2,346.0) rotate(-45)" font-family="'Liberation Sans',sans-serif" font-size="9.0" fill="#333" text-anchor="end">1985</text>
<text transform="translate(323.6,346.0) rotate(-45)" font-family="'Liberation Sans',sans-serif" font-size="9.0" fill="#333" text-anchor="end">1987</text>
<text transform="translate(343.1,346.0) rotate(-45)" font-family="'Liberation Sans',sans-serif" font-size="9.0" fill="#333" text-anchor="end">1989</text>
<text transform="translate(362.5,346.0) rotate(-45)" font-family="'Liberation Sans',sans-serif" font-size="9.0" fill="#333" text-anchor="end">1991</text>
<text transform="translate(382.0,346.0) rotate(-45)" font-family="'Liberation Sans',sans-serif" font-size="9.0" fill="#333" text-anchor="end">1993</text>
<text transform="translate(401.4,346.0) rotate(-45)" font-family="'Liberation Sans',sans-serif" font-size="9.0" fill="#333" text-anchor="end">1995</text>
<text transform="translate(420.8,346.0) rotate(-45)" font-family="'Liberation Sans',sans-serif" font-size="9.0" fill="#333" text-anchor="end">1997</text>
<text transform="translate(440.3,346.0) rotate(-45)" font-family="'Liberation Sans',sans-serif" font-size="9.0" fill="#333" text-anchor="end">1999</text>
<text transform="translate(459.7,346.0) rotate(-45)" font-family="'Liberation Sans',sans-serif" font-size="9.0" fill="#333" text-anchor="end">2001</text>
<text transform="translate(479.2,346.0) rotate(-45)" font-family="'Liberation Sans',sans-serif" font-size="9.0" fill="#333" text-anchor="end">2003</text>
<text transform="translate(498.6,346.0) rotate(-45)" font-family="'Liberation Sans',sans-serif" font-size="9.0" fill="#333" text-anchor="end">2005</text>
<text transform="translate(518.0,346.0) rotate(-45)" font-family="'Liberation Sans',sans-serif" font-size="9.0" fill="#333" text-anchor="end">2007</text>
<text transform="translate(537.5,346.0) rotate(-45)" font-family="'Liberation Sans',sans-serif" font-size="9.0" fill="#333" text-anchor="end">2009</text>
<text transform="translate(556.9,346.0) rotate(-45)" font-family="'Liberation Sans',sans-serif" font-size="9.0" fill="#333" text-anchor="end">2011</text>
<text transform="translate(576.4,346.0) rotate(-45)" font-family="'Liberation Sans',sans-serif" font-size="9.0" fill="#333" text-anchor="end">2013</text>
<text transform="translate(595.8,346.0) rotate(-45)" font-family="'Liberation Sans',sans-serif" font-size="9.0" fill="#333" text-anchor="end">2015</text>
<text transform="translate(615.2,346.0) rotate(-45)" font-family="'Liberation Sans',sans-serif" font-size="9.0" fill="#333" text-anchor="end">2017</text>
<text transform="translate(634.7,346.0) rotate(-45)" font-family="'Liberation Sans',sans-serif" font-size="9.0" fill="#333" text-anchor="end">2019</text>
<text transform="translate(654.1,346.0) rotate(-45)" font-family="'Liberation Sans',sans-serif" font-size="9.0" fill="#333" text-anchor="end">2021</text>
<text transform="translate(673.6,346.0) rotate(-45)" font-family="'Liberation Sans',sans-serif" font-size="9.0" fill="#333" text-anchor="end">2023</text>
<rect x="0" y="372" width="768" height="60" fill="#003d6b"/>
<text x="58" y="386.0" font-family="'Liberation Sans',sans-serif" font-size="6.3" fill="#f2f5f9" textLength="61.5" lengthAdjust="spacingAndGlyphs">Source: RWM, YCharts</text>
<text x="58" y="393.7" font-family="'Liberation Sans',sans-serif" font-size="6.3" fill="#f2f5f9" textLength="198" lengthAdjust="spacingAndGlyphs">* Average Hourly Earnings of Production and Nonsupervisory Employees</text>
<text x="58" y="405.6" font-family="'Liberation Sans',sans-serif" font-size="6.3" fill="#f2f5f9" textLength="439" lengthAdjust="spacingAndGlyphs">Ritholtz Wealth Management is a Registered Investment Adviser. This presentation is solely for informational purposes. Advisory services are only offered to clients or</text>
<text x="58" y="413.4" font-family="'Liberation Sans',sans-serif" font-size="6.3" fill="#f2f5f9" textLength="452" lengthAdjust="spacingAndGlyphs">prospective clients where Ritholtz Wealth Management and its representatives are properly licensed or exempt from licensure. Past performance is no guarantee of future</text>
<text x="58" y="421.2" font-family="'Liberation Sans',sans-serif" font-size="6.3" fill="#f2f5f9" textLength="461.5" lengthAdjust="spacingAndGlyphs">returns. Investing involves risk and possible loss of principal capital. No advice may be rendered by Ritholtz Wealth Management unless a client service agreement is in place.</text>
<text x="619.4" y="413.0" font-family="'Liberation Serif',serif" font-size="15.2" fill="#ffffff" stroke="#ffffff" stroke-width="0.3" textLength="75.6" lengthAdjust="spacingAndGlyphs">RITHOLTZ</text>
<text x="619.6" y="419.0" font-family="'Liberation Sans',sans-serif" font-size="7.6" fill="#c3cedb" textLength="74.6" lengthAdjust="spacingAndGlyphs">wealth management</text>
<g transform="translate(664,20) scale(1.0)"><g transform="translate(41.2,32.9) rotate(17)"><path fill="#003d6b" fill-rule="evenodd"  d="M-36.00,0.00a36.00,18.20 0 1,0 72.00,0a36.00,18.20 0 1,0 -72.00,0ZM-33.10,-1.30a33.30,14.00 0 1,0 66.60,0a33.30,14.00 0 1,0 -66.60,0Z"/></g><g transform="translate(36.0,36.0) rotate(-48)"><path fill="#ffffff" stroke="#ffffff" stroke-width="0.8" d="M-36.50,0.00a36.50,18.80 0 1,0 73.00,0a36.50,18.80 0 1,0 -73.00,0Z"/></g><g transform="translate(36.0,36.0) rotate(-48)"><path fill="#003d6b" fill-rule="evenodd"  d="M-36.50,0.00a36.50,18.80 0 1,0 73.00,0a36.50,18.80 0 1,0 -73.00,0ZM-32.00,-2.00a33.00,13.70 0 1,0 66.00,0a33.00,13.70 0 1,0 -66.00,0Z"/></g><path fill="#003d6b" d="M26.20,31.90a11.00,12.40 0 1,0 22.00,0a11.00,12.40 0 1,0 -22.00,0Z"/><path fill="#ffffff" d="M26.50,33.80a8.70,10.20 0 1,0 17.40,0a8.70,10.20 0 1,0 -17.40,0Z"/><line x1="51.84" y1="10.21" x2="14.55" y2="60.98" stroke="#ffffff" stroke-width="2.0"/><polygon points="51.84,10.21 33.71,36.59 14.55,60.98 32.09,35.41" fill="#003d6b" /><polygon points="43.56,21.49 35.48,37.89 25.80,45.67 30.32,34.11" fill="#003d6b" stroke="#ffffff" stroke-width="0.5" stroke-linejoin="round"/><polygon points="44.59,44.58 40.47,39.20 34.91,33.26 28.21,30.57 22.02,28.01 26.31,33.15 30.89,38.74 37.93,42.67" fill="#003d6b" stroke="#ffffff" stroke-width="0.5" stroke-linejoin="round"/><polygon points="41.78,23.91 34.68,33.58 33.39,32.63" fill="#ffffff" /><clipPath id="lc1"><rect x="-45" y="-1.5" width="90" height="30"/></clipPath><g transform="translate(41.2,32.9) rotate(17)"><g clip-path="url(#lc1)"><path fill="#003d6b" fill-rule="evenodd" stroke="#ffffff" stroke-width="1.0" paint-order="stroke" d="M-36.00,0.00a36.00,18.20 0 1,0 72.00,0a36.00,18.20 0 1,0 -72.00,0ZM-33.10,-1.30a33.30,14.00 0 1,0 66.60,0a33.30,14.00 0 1,0 -66.60,0Z"/></g></g></g>
<g transform="translate(694.6,390.2) scale(0.5)"><g transform="translate(41.2,32.9) rotate(17)"><path fill="#ffffff" fill-rule="evenodd"  d="M-36.00,0.00a36.00,18.20 0 1,0 72.00,0a36.00,18.20 0 1,0 -72.00,0ZM-33.10,-1.30a33.30,14.00 0 1,0 66.60,0a33.30,14.00 0 1,0 -66.60,0Z"/></g><g transform="translate(36.0,36.0) rotate(-48)"><path fill="#003d6b" stroke="#003d6b" stroke-width="0.8" d="M-36.50,0.00a36.50,18.80 0 1,0 73.00,0a36.50,18.80 0 1,0 -73.00,0Z"/></g><g transform="translate(36.0,36.0) rotate(-48)"><path fill="#ffffff" fill-rule="evenodd"  d="M-36.50,0.00a36.50,18.80 0 1,0 73.00,0a36.50,18.80 0 1,0 -73.00,0ZM-32.00,-2.00a33.00,13.70 0 1,0 66.00,0a33.00,13.70 0 1,0 -66.00,0Z"/></g><path fill="#ffffff" d="M26.20,31.90a11.00,12.40 0 1,0 22.00,0a11.00,12.40 0 1,0 -22.00,0Z"/><path fill="#003d6b" d="M26.50,33.80a8.70,10.20 0 1,0 17.40,0a8.70,10.20 0 1,0 -17.40,0Z"/><line x1="51.84" y1="10.21" x2="14.55" y2="60.98" stroke="#003d6b" stroke-width="2.0"/><polygon points="51.84,10.21 33.71,36.59 14.55,60.98 32.09,35.41" fill="#ffffff" /><polygon points="43.56,21.49 35.48,37.89 25.80,45.67 30.32,34.11" fill="#ffffff" stroke="#003d6b" stroke-width="0.5" stroke-linejoin="round"/><polygon points="44.59,44.58 40.47,39.20 34.91,33.26 28.21,30.57 22.02,28.01 26.31,33.15 30.89,38.74 37.93,42.67" fill="#ffffff" stroke="#003d6b" stroke-width="0.5" stroke-linejoin="round"/><polygon points="41.78,23.91 34.68,33.58 33.39,32.63" fill="#003d6b" /><clipPath id="lc2"><rect x="-45" y="-1.5" width="90" height="30"/></clipPath><g transform="translate(41.2,32.9) rotate(17)"><g clip-path="url(#lc2)"><path fill="#ffffff" fill-rule="evenodd" stroke="#003d6b" stroke-width="1.0" paint-order="stroke" d="M-36.00,0.00a36.00,18.20 0 1,0 72.00,0a36.00,18.20 0 1,0 -72.00,0ZM-33.10,-1.30a33.30,14.00 0 1,0 66.60,0a33.30,14.00 0 1,0 -66.60,0Z"/></g></g></g>
</svg>
</body></html>
